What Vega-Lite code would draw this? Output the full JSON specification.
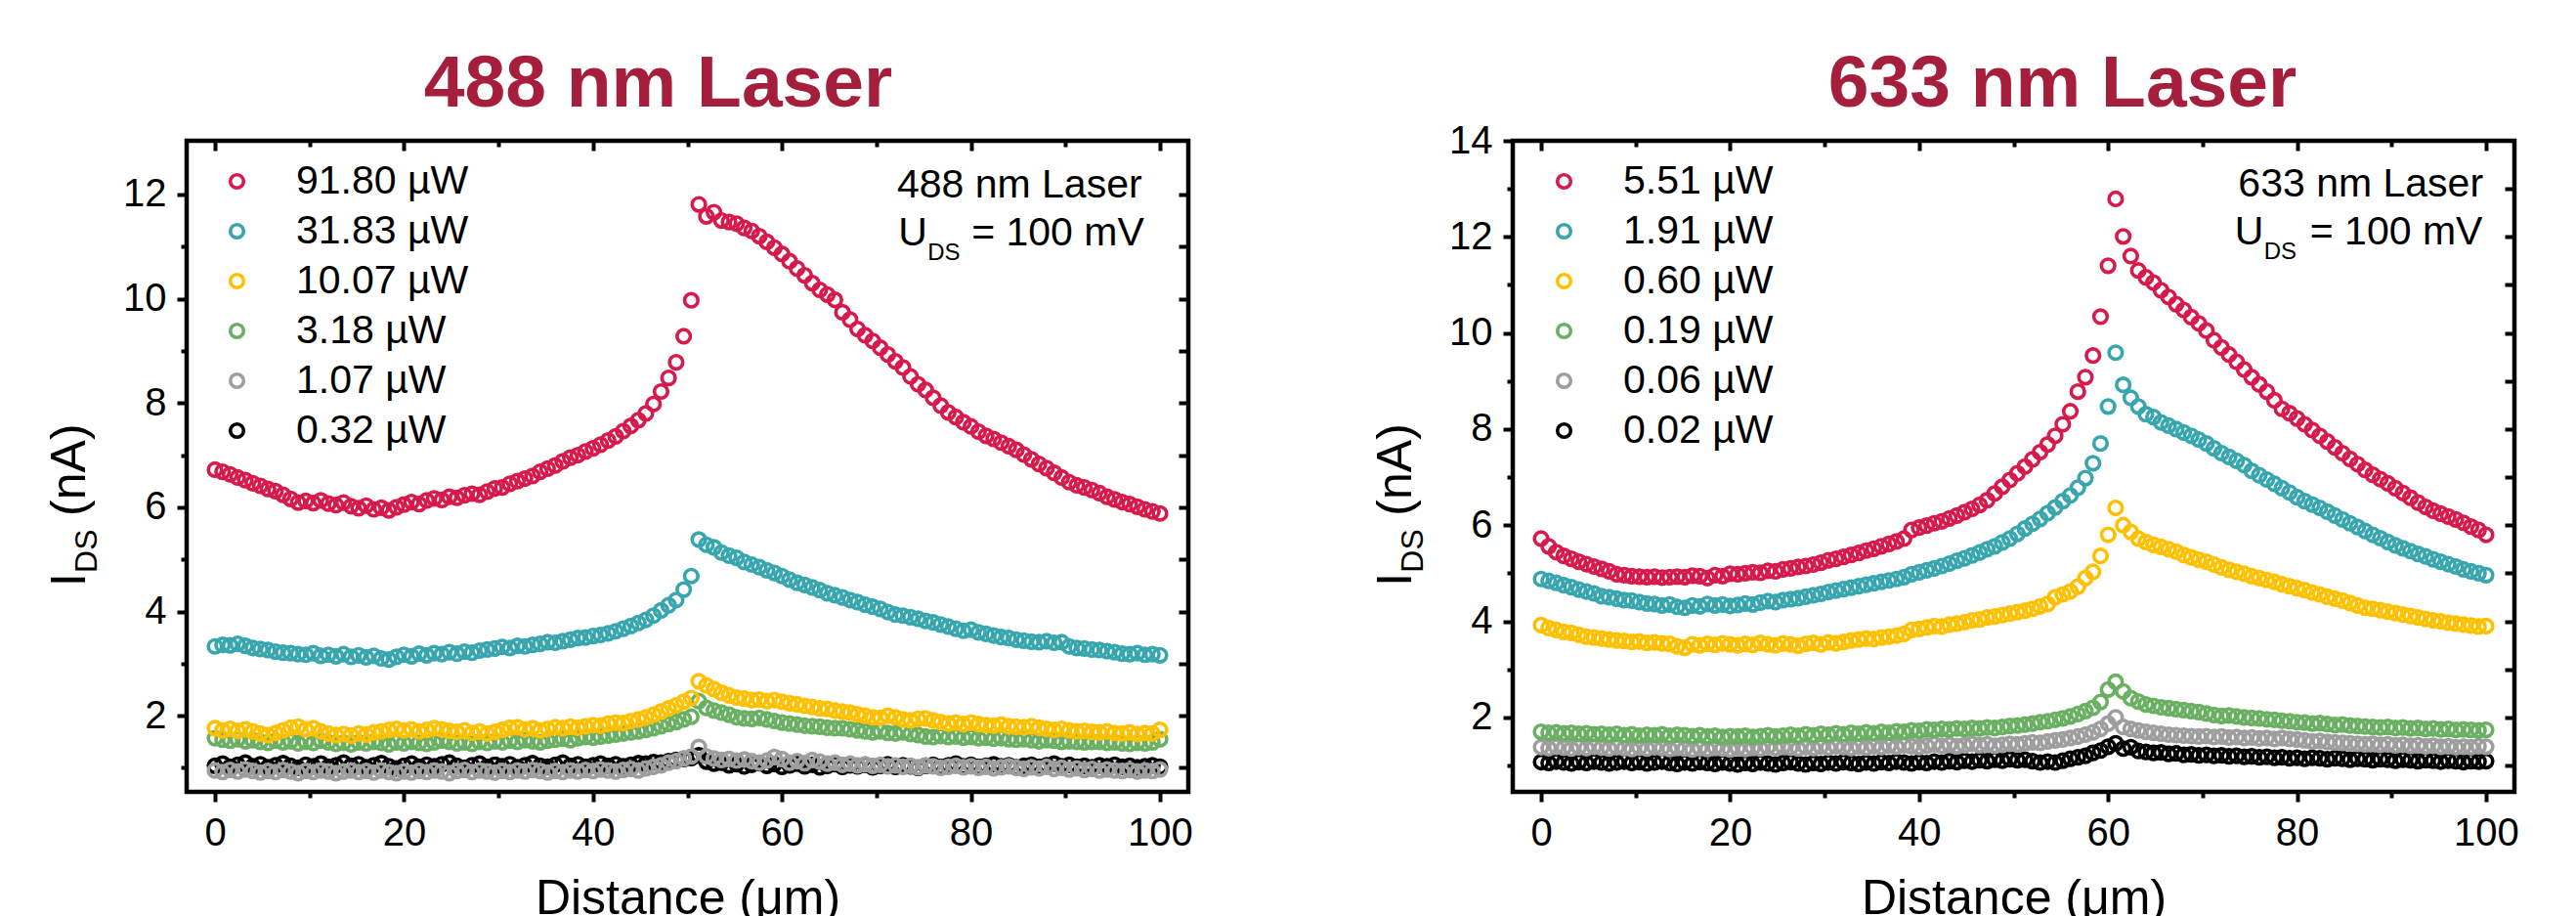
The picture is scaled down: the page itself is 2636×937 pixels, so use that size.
{
"$schema":"https://vega.github.io/schema/vega-lite/v6.json",
"padding":{"left":44,"top":46,"right":0,"bottom":0},
"bounds":"flush",
"spacing":332,
"resolve":{"scale":{"color":"independent"},"legend":{"color":"independent"}},
"config":{"background":"white","view":{"stroke":"black","strokeWidth":4.5},"axis":{"domain":false,"grid":false,"tickColor":"black","tickWidth":4,"labelFont":"Liberation Sans","labelColor":"black","labelFontSize":40,"titleFont":"Liberation Sans","titleColor":"black","labelFlush":false,"labelOverlap":false}},
"datasets":{
"d488":[
{"P":"0.32 µW","x":0,"y":1.04},{"P":"0.32 µW","x":0.8,"y":1.08},{"P":"0.32 µW","x":1.6,"y":1.02},{"P":"0.32 µW","x":2.4,"y":1.06},{"P":"0.32 µW","x":3.2,"y":1.1},{"P":"0.32 µW","x":4,"y":1.03},{"P":"0.32 µW","x":4.8,"y":1.07},{"P":"0.32 µW","x":5.6,"y":1.01},{"P":"0.32 µW","x":6.4,"y":1.05},{"P":"0.32 µW","x":7.2,"y":1.09},
{"P":"0.32 µW","x":8,"y":1.04},{"P":"0.32 µW","x":8.8,"y":1.0},{"P":"0.32 µW","x":9.6,"y":1.06},{"P":"0.32 µW","x":10.4,"y":1.03},{"P":"0.32 µW","x":11.2,"y":1.08},{"P":"0.32 µW","x":12,"y":1.02},{"P":"0.32 µW","x":12.8,"y":1.05},{"P":"0.32 µW","x":13.6,"y":1.1},{"P":"0.32 µW","x":14.4,"y":1.04},{"P":"0.32 µW","x":15.2,"y":1.07},
{"P":"0.32 µW","x":16,"y":1.01},{"P":"0.32 µW","x":16.8,"y":1.05},{"P":"0.32 µW","x":17.6,"y":1.09},{"P":"0.32 µW","x":18.4,"y":1.03},{"P":"0.32 µW","x":19.2,"y":0.99},{"P":"0.32 µW","x":20,"y":1.04},{"P":"0.32 µW","x":20.8,"y":1.08},{"P":"0.32 µW","x":21.6,"y":1.02},{"P":"0.32 µW","x":22.4,"y":1.06},{"P":"0.32 µW","x":23.2,"y":1.03},
{"P":"0.32 µW","x":24,"y":1.07},{"P":"0.32 µW","x":24.8,"y":1.1},{"P":"0.32 µW","x":25.6,"y":1.04},{"P":"0.32 µW","x":26.4,"y":1.0},{"P":"0.32 µW","x":27.2,"y":1.05},{"P":"0.32 µW","x":28,"y":1.08},{"P":"0.32 µW","x":28.8,"y":1.02},{"P":"0.32 µW","x":29.6,"y":1.06},{"P":"0.32 µW","x":30.4,"y":1.03},{"P":"0.32 µW","x":31.2,"y":1.07},
{"P":"0.32 µW","x":32,"y":1.01},{"P":"0.32 µW","x":32.8,"y":1.05},{"P":"0.32 µW","x":33.6,"y":1.09},{"P":"0.32 µW","x":34.4,"y":1.04},{"P":"0.32 µW","x":35.2,"y":1.02},{"P":"0.32 µW","x":36,"y":1.06},{"P":"0.32 µW","x":36.8,"y":1.1},{"P":"0.32 µW","x":37.6,"y":1.04},{"P":"0.32 µW","x":38.4,"y":1.07},{"P":"0.32 µW","x":39.2,"y":1.02},
{"P":"0.32 µW","x":40,"y":1.05},{"P":"0.32 µW","x":40.8,"y":1.08},{"P":"0.32 µW","x":41.6,"y":1.04},{"P":"0.32 µW","x":42.4,"y":1.07},{"P":"0.32 µW","x":43.2,"y":1.03},{"P":"0.32 µW","x":44,"y":1.06},{"P":"0.32 µW","x":44.8,"y":1.09},{"P":"0.32 µW","x":45.6,"y":1.08},{"P":"0.32 µW","x":46.4,"y":1.11},{"P":"0.32 µW","x":47.2,"y":1.1},
{"P":"0.32 µW","x":48,"y":1.13},{"P":"0.32 µW","x":48.8,"y":1.15},{"P":"0.32 µW","x":49.6,"y":1.17},{"P":"0.32 µW","x":50.4,"y":1.19},{"P":"0.32 µW","x":51.2,"y":1.24},{"P":"0.32 µW","x":52,"y":1.12},{"P":"0.32 µW","x":52.8,"y":1.08},{"P":"0.32 µW","x":53.6,"y":1.1},{"P":"0.32 µW","x":54.4,"y":1.05},{"P":"0.32 µW","x":55.2,"y":1.07},
{"P":"0.32 µW","x":56,"y":1.03},{"P":"0.32 µW","x":56.8,"y":1.06},{"P":"0.32 µW","x":57.6,"y":1.09},{"P":"0.32 µW","x":58.4,"y":1.04},{"P":"0.32 µW","x":59.2,"y":1.07},{"P":"0.32 µW","x":60,"y":1.02},{"P":"0.32 µW","x":60.8,"y":1.05},{"P":"0.32 µW","x":61.6,"y":1.08},{"P":"0.32 µW","x":62.4,"y":1.03},{"P":"0.32 µW","x":63.2,"y":1.06},
{"P":"0.32 µW","x":64,"y":1.01},{"P":"0.32 µW","x":64.8,"y":1.04},{"P":"0.32 µW","x":65.6,"y":1.07},{"P":"0.32 µW","x":66.4,"y":1.02},{"P":"0.32 µW","x":67.2,"y":1.05},{"P":"0.32 µW","x":68,"y":1.03},{"P":"0.32 µW","x":68.8,"y":1.06},{"P":"0.32 µW","x":69.6,"y":1.01},{"P":"0.32 µW","x":70.4,"y":1.04},{"P":"0.32 µW","x":71.2,"y":1.07},
{"P":"0.32 µW","x":72,"y":1.02},{"P":"0.32 µW","x":72.8,"y":1.05},{"P":"0.32 µW","x":73.6,"y":1.03},{"P":"0.32 µW","x":74.4,"y":1.0},{"P":"0.32 µW","x":75.2,"y":1.04},{"P":"0.32 µW","x":76,"y":1.06},{"P":"0.32 µW","x":76.8,"y":1.02},{"P":"0.32 µW","x":77.6,"y":1.05},{"P":"0.32 µW","x":78.4,"y":1.08},{"P":"0.32 µW","x":79.2,"y":1.03},
{"P":"0.32 µW","x":80,"y":1.06},{"P":"0.32 µW","x":80.8,"y":1.02},{"P":"0.32 µW","x":81.6,"y":1.04},{"P":"0.32 µW","x":82.4,"y":1.07},{"P":"0.32 µW","x":83.2,"y":1.03},{"P":"0.32 µW","x":84,"y":1.05},{"P":"0.32 µW","x":84.8,"y":1.01},{"P":"0.32 µW","x":85.6,"y":1.04},{"P":"0.32 µW","x":86.4,"y":1.06},{"P":"0.32 µW","x":87.2,"y":1.02},
{"P":"0.32 µW","x":88,"y":1.05},{"P":"0.32 µW","x":88.8,"y":1.08},{"P":"0.32 µW","x":89.6,"y":1.03},{"P":"0.32 µW","x":90.4,"y":1.06},{"P":"0.32 µW","x":91.2,"y":1.02},{"P":"0.32 µW","x":92,"y":1.04},{"P":"0.32 µW","x":92.8,"y":1.01},{"P":"0.32 µW","x":93.6,"y":1.05},{"P":"0.32 µW","x":94.4,"y":1.03},{"P":"0.32 µW","x":95.2,"y":1.06},
{"P":"0.32 µW","x":96,"y":1.02},{"P":"0.32 µW","x":96.8,"y":1.04},{"P":"0.32 µW","x":97.6,"y":1.01},{"P":"0.32 µW","x":98.4,"y":1.03},{"P":"0.32 µW","x":99.2,"y":1.05},{"P":"0.32 µW","x":100,"y":1.02},
{"P":"1.07 µW","x":0,"y":0.95},{"P":"1.07 µW","x":0.8,"y":0.92},{"P":"1.07 µW","x":1.6,"y":0.96},{"P":"1.07 µW","x":2.4,"y":0.93},{"P":"1.07 µW","x":3.2,"y":0.97},{"P":"1.07 µW","x":4,"y":0.94},{"P":"1.07 µW","x":4.8,"y":0.91},{"P":"1.07 µW","x":5.6,"y":0.94},{"P":"1.07 µW","x":6.4,"y":0.92},{"P":"1.07 µW","x":7.2,"y":0.96},
{"P":"1.07 µW","x":8,"y":0.93},{"P":"1.07 µW","x":8.8,"y":0.9},{"P":"1.07 µW","x":9.6,"y":0.94},{"P":"1.07 µW","x":10.4,"y":0.92},{"P":"1.07 µW","x":11.2,"y":0.95},{"P":"1.07 µW","x":12,"y":0.93},{"P":"1.07 µW","x":12.8,"y":0.9},{"P":"1.07 µW","x":13.6,"y":0.93},{"P":"1.07 µW","x":14.4,"y":0.95},{"P":"1.07 µW","x":15.2,"y":0.92},
{"P":"1.07 µW","x":16,"y":0.94},{"P":"1.07 µW","x":16.8,"y":0.91},{"P":"1.07 µW","x":17.6,"y":0.95},{"P":"1.07 µW","x":18.4,"y":0.92},{"P":"1.07 µW","x":19.2,"y":0.9},{"P":"1.07 µW","x":20,"y":0.93},{"P":"1.07 µW","x":20.8,"y":0.91},{"P":"1.07 µW","x":21.6,"y":0.94},{"P":"1.07 µW","x":22.4,"y":0.92},{"P":"1.07 µW","x":23.2,"y":0.95},
{"P":"1.07 µW","x":24,"y":0.93},{"P":"1.07 µW","x":24.8,"y":0.9},{"P":"1.07 µW","x":25.6,"y":0.94},{"P":"1.07 µW","x":26.4,"y":0.96},{"P":"1.07 µW","x":27.2,"y":0.92},{"P":"1.07 µW","x":28,"y":0.95},{"P":"1.07 µW","x":28.8,"y":0.93},{"P":"1.07 µW","x":29.6,"y":0.91},{"P":"1.07 µW","x":30.4,"y":0.94},{"P":"1.07 µW","x":31.2,"y":0.92},
{"P":"1.07 µW","x":32,"y":0.95},{"P":"1.07 µW","x":32.8,"y":0.93},{"P":"1.07 µW","x":33.6,"y":0.96},{"P":"1.07 µW","x":34.4,"y":0.94},{"P":"1.07 µW","x":35.2,"y":0.91},{"P":"1.07 µW","x":36,"y":0.94},{"P":"1.07 µW","x":36.8,"y":0.92},{"P":"1.07 µW","x":37.6,"y":0.95},{"P":"1.07 µW","x":38.4,"y":0.93},{"P":"1.07 µW","x":39.2,"y":0.96},
{"P":"1.07 µW","x":40,"y":0.94},{"P":"1.07 µW","x":40.8,"y":0.97},{"P":"1.07 µW","x":41.6,"y":0.95},{"P":"1.07 µW","x":42.4,"y":0.93},{"P":"1.07 µW","x":43.2,"y":0.96},{"P":"1.07 µW","x":44,"y":0.98},{"P":"1.07 µW","x":44.8,"y":0.95},{"P":"1.07 µW","x":45.6,"y":0.99},{"P":"1.07 µW","x":46.4,"y":1.02},{"P":"1.07 µW","x":47.2,"y":1.05},
{"P":"1.07 µW","x":48,"y":1.1},{"P":"1.07 µW","x":48.8,"y":1.13},{"P":"1.07 µW","x":49.6,"y":1.18},{"P":"1.07 µW","x":50.4,"y":1.22},{"P":"1.07 µW","x":51.2,"y":1.4},{"P":"1.07 µW","x":52,"y":1.22},{"P":"1.07 µW","x":52.8,"y":1.18},{"P":"1.07 µW","x":53.6,"y":1.15},{"P":"1.07 µW","x":54.4,"y":1.17},{"P":"1.07 µW","x":55.2,"y":1.14},
{"P":"1.07 µW","x":56,"y":1.16},{"P":"1.07 µW","x":56.8,"y":1.13},{"P":"1.07 µW","x":57.6,"y":1.1},{"P":"1.07 µW","x":58.4,"y":1.14},{"P":"1.07 µW","x":59.2,"y":1.21},{"P":"1.07 µW","x":60,"y":1.17},{"P":"1.07 µW","x":60.8,"y":1.1},{"P":"1.07 µW","x":61.6,"y":1.13},{"P":"1.07 µW","x":62.4,"y":1.09},{"P":"1.07 µW","x":63.2,"y":1.15},
{"P":"1.07 µW","x":64,"y":1.12},{"P":"1.07 µW","x":64.8,"y":1.08},{"P":"1.07 µW","x":65.6,"y":1.1},{"P":"1.07 µW","x":66.4,"y":1.06},{"P":"1.07 µW","x":67.2,"y":1.08},{"P":"1.07 µW","x":68,"y":1.05},{"P":"1.07 µW","x":68.8,"y":1.07},{"P":"1.07 µW","x":69.6,"y":1.04},{"P":"1.07 µW","x":70.4,"y":1.06},{"P":"1.07 µW","x":71.2,"y":1.03},
{"P":"1.07 µW","x":72,"y":1.05},{"P":"1.07 µW","x":72.8,"y":1.02},{"P":"1.07 µW","x":73.6,"y":1.04},{"P":"1.07 µW","x":74.4,"y":1.01},{"P":"1.07 µW","x":75.2,"y":1.05},{"P":"1.07 µW","x":76,"y":1.03},{"P":"1.07 µW","x":76.8,"y":1.0},{"P":"1.07 µW","x":77.6,"y":1.02},{"P":"1.07 µW","x":78.4,"y":1.04},{"P":"1.07 µW","x":79.2,"y":1.01},
{"P":"1.07 µW","x":80,"y":1.03},{"P":"1.07 µW","x":80.8,"y":1.0},{"P":"1.07 µW","x":81.6,"y":1.02},{"P":"1.07 µW","x":82.4,"y":0.99},{"P":"1.07 µW","x":83.2,"y":1.01},{"P":"1.07 µW","x":84,"y":1.03},{"P":"1.07 µW","x":84.8,"y":1.0},{"P":"1.07 µW","x":85.6,"y":0.98},{"P":"1.07 µW","x":86.4,"y":1.01},{"P":"1.07 µW","x":87.2,"y":0.99},
{"P":"1.07 µW","x":88,"y":1.02},{"P":"1.07 µW","x":88.8,"y":0.98},{"P":"1.07 µW","x":89.6,"y":1.0},{"P":"1.07 µW","x":90.4,"y":0.97},{"P":"1.07 µW","x":91.2,"y":0.99},{"P":"1.07 µW","x":92,"y":0.96},{"P":"1.07 µW","x":92.8,"y":0.98},{"P":"1.07 µW","x":93.6,"y":0.95},{"P":"1.07 µW","x":94.4,"y":0.97},{"P":"1.07 µW","x":95.2,"y":0.95},
{"P":"1.07 µW","x":96,"y":0.94},{"P":"1.07 µW","x":96.8,"y":0.96},{"P":"1.07 µW","x":97.6,"y":0.93},{"P":"1.07 µW","x":98.4,"y":0.95},{"P":"1.07 µW","x":99.2,"y":0.94},{"P":"1.07 µW","x":100,"y":0.97},
{"P":"3.18 µW","x":0,"y":1.57},{"P":"3.18 µW","x":0.8,"y":1.54},{"P":"3.18 µW","x":1.6,"y":1.52},{"P":"3.18 µW","x":2.4,"y":1.55},{"P":"3.18 µW","x":3.2,"y":1.51},{"P":"3.18 µW","x":4,"y":1.53},{"P":"3.18 µW","x":4.8,"y":1.5},{"P":"3.18 µW","x":5.6,"y":1.48},{"P":"3.18 µW","x":6.4,"y":1.52},{"P":"3.18 µW","x":7.2,"y":1.49},
{"P":"3.18 µW","x":8,"y":1.51},{"P":"3.18 µW","x":8.8,"y":1.47},{"P":"3.18 µW","x":9.6,"y":1.5},{"P":"3.18 µW","x":10.4,"y":1.48},{"P":"3.18 µW","x":11.2,"y":1.52},{"P":"3.18 µW","x":12,"y":1.49},{"P":"3.18 µW","x":12.8,"y":1.46},{"P":"3.18 µW","x":13.6,"y":1.48},{"P":"3.18 µW","x":14.4,"y":1.45},{"P":"3.18 µW","x":15.2,"y":1.49},
{"P":"3.18 µW","x":16,"y":1.47},{"P":"3.18 µW","x":16.8,"y":1.5},{"P":"3.18 µW","x":17.6,"y":1.48},{"P":"3.18 µW","x":18.4,"y":1.45},{"P":"3.18 µW","x":19.2,"y":1.49},{"P":"3.18 µW","x":20,"y":1.47},{"P":"3.18 µW","x":20.8,"y":1.5},{"P":"3.18 µW","x":21.6,"y":1.48},{"P":"3.18 µW","x":22.4,"y":1.46},{"P":"3.18 µW","x":23.2,"y":1.49},
{"P":"3.18 µW","x":24,"y":1.52},{"P":"3.18 µW","x":24.8,"y":1.5},{"P":"3.18 µW","x":25.6,"y":1.47},{"P":"3.18 µW","x":26.4,"y":1.49},{"P":"3.18 µW","x":27.2,"y":1.46},{"P":"3.18 µW","x":28,"y":1.5},{"P":"3.18 µW","x":28.8,"y":1.48},{"P":"3.18 µW","x":29.6,"y":1.51},{"P":"3.18 µW","x":30.4,"y":1.49},{"P":"3.18 µW","x":31.2,"y":1.52},
{"P":"3.18 µW","x":32,"y":1.5},{"P":"3.18 µW","x":32.8,"y":1.53},{"P":"3.18 µW","x":33.6,"y":1.51},{"P":"3.18 µW","x":34.4,"y":1.49},{"P":"3.18 µW","x":35.2,"y":1.52},{"P":"3.18 µW","x":36,"y":1.54},{"P":"3.18 µW","x":36.8,"y":1.56},{"P":"3.18 µW","x":37.6,"y":1.53},{"P":"3.18 µW","x":38.4,"y":1.57},{"P":"3.18 µW","x":39.2,"y":1.59},
{"P":"3.18 µW","x":40,"y":1.58},{"P":"3.18 µW","x":40.8,"y":1.6},{"P":"3.18 µW","x":41.6,"y":1.62},{"P":"3.18 µW","x":42.4,"y":1.64},{"P":"3.18 µW","x":43.2,"y":1.66},{"P":"3.18 µW","x":44,"y":1.68},{"P":"3.18 µW","x":44.8,"y":1.7},{"P":"3.18 µW","x":45.6,"y":1.73},{"P":"3.18 µW","x":46.4,"y":1.76},{"P":"3.18 µW","x":47.2,"y":1.8},
{"P":"3.18 µW","x":48,"y":1.84},{"P":"3.18 µW","x":48.8,"y":1.88},{"P":"3.18 µW","x":49.6,"y":1.93},{"P":"3.18 µW","x":50.4,"y":1.98},{"P":"3.18 µW","x":51.2,"y":2.28},{"P":"3.18 µW","x":52,"y":2.15},{"P":"3.18 µW","x":52.8,"y":2.1},{"P":"3.18 µW","x":53.6,"y":2.06},{"P":"3.18 µW","x":54.4,"y":2.02},{"P":"3.18 µW","x":55.2,"y":1.97},
{"P":"3.18 µW","x":56,"y":1.95},{"P":"3.18 µW","x":56.8,"y":1.94},{"P":"3.18 µW","x":57.6,"y":1.96},{"P":"3.18 µW","x":58.4,"y":1.93},{"P":"3.18 µW","x":59.2,"y":1.9},{"P":"3.18 µW","x":60,"y":1.87},{"P":"3.18 µW","x":60.8,"y":1.85},{"P":"3.18 µW","x":61.6,"y":1.83},{"P":"3.18 µW","x":62.4,"y":1.81},{"P":"3.18 µW","x":63.2,"y":1.8},
{"P":"3.18 µW","x":64,"y":1.79},{"P":"3.18 µW","x":64.8,"y":1.77},{"P":"3.18 µW","x":65.6,"y":1.76},{"P":"3.18 µW","x":66.4,"y":1.76},{"P":"3.18 µW","x":67.2,"y":1.74},{"P":"3.18 µW","x":68,"y":1.72},{"P":"3.18 µW","x":68.8,"y":1.7},{"P":"3.18 µW","x":69.6,"y":1.68},{"P":"3.18 µW","x":70.4,"y":1.7},{"P":"3.18 µW","x":71.2,"y":1.67},
{"P":"3.18 µW","x":72,"y":1.66},{"P":"3.18 µW","x":72.8,"y":1.68},{"P":"3.18 µW","x":73.6,"y":1.65},{"P":"3.18 µW","x":74.4,"y":1.63},{"P":"3.18 µW","x":75.2,"y":1.6},{"P":"3.18 µW","x":76,"y":1.59},{"P":"3.18 µW","x":76.8,"y":1.61},{"P":"3.18 µW","x":77.6,"y":1.59},{"P":"3.18 µW","x":78.4,"y":1.6},{"P":"3.18 µW","x":79.2,"y":1.58},
{"P":"3.18 µW","x":80,"y":1.59},{"P":"3.18 µW","x":80.8,"y":1.57},{"P":"3.18 µW","x":81.6,"y":1.58},{"P":"3.18 µW","x":82.4,"y":1.56},{"P":"3.18 µW","x":83.2,"y":1.57},{"P":"3.18 µW","x":84,"y":1.55},{"P":"3.18 µW","x":84.8,"y":1.54},{"P":"3.18 µW","x":85.6,"y":1.55},{"P":"3.18 µW","x":86.4,"y":1.53},{"P":"3.18 µW","x":87.2,"y":1.51},
{"P":"3.18 µW","x":88,"y":1.53},{"P":"3.18 µW","x":88.8,"y":1.52},{"P":"3.18 µW","x":89.6,"y":1.5},{"P":"3.18 µW","x":90.4,"y":1.51},{"P":"3.18 µW","x":91.2,"y":1.5},{"P":"3.18 µW","x":92,"y":1.49},{"P":"3.18 µW","x":92.8,"y":1.5},{"P":"3.18 µW","x":93.6,"y":1.5},{"P":"3.18 µW","x":94.4,"y":1.48},{"P":"3.18 µW","x":95.2,"y":1.49},
{"P":"3.18 µW","x":96,"y":1.47},{"P":"3.18 µW","x":96.8,"y":1.46},{"P":"3.18 µW","x":97.6,"y":1.48},{"P":"3.18 µW","x":98.4,"y":1.47},{"P":"3.18 µW","x":99.2,"y":1.49},{"P":"3.18 µW","x":100,"y":1.55},
{"P":"10.07 µW","x":0,"y":1.76},{"P":"10.07 µW","x":0.8,"y":1.72},{"P":"10.07 µW","x":1.6,"y":1.75},{"P":"10.07 µW","x":2.4,"y":1.71},{"P":"10.07 µW","x":3.2,"y":1.74},{"P":"10.07 µW","x":4,"y":1.7},{"P":"10.07 µW","x":4.8,"y":1.66},{"P":"10.07 µW","x":5.6,"y":1.63},{"P":"10.07 µW","x":6.4,"y":1.67},{"P":"10.07 µW","x":7.2,"y":1.72},
{"P":"10.07 µW","x":8,"y":1.77},{"P":"10.07 µW","x":8.8,"y":1.79},{"P":"10.07 µW","x":9.6,"y":1.74},{"P":"10.07 µW","x":10.4,"y":1.76},{"P":"10.07 µW","x":11.2,"y":1.7},{"P":"10.07 µW","x":12,"y":1.66},{"P":"10.07 µW","x":12.8,"y":1.63},{"P":"10.07 µW","x":13.6,"y":1.65},{"P":"10.07 µW","x":14.4,"y":1.62},{"P":"10.07 µW","x":15.2,"y":1.66},
{"P":"10.07 µW","x":16,"y":1.64},{"P":"10.07 µW","x":16.8,"y":1.68},{"P":"10.07 µW","x":17.6,"y":1.7},{"P":"10.07 µW","x":18.4,"y":1.73},{"P":"10.07 µW","x":19.2,"y":1.75},{"P":"10.07 µW","x":20,"y":1.72},{"P":"10.07 µW","x":20.8,"y":1.74},{"P":"10.07 µW","x":21.6,"y":1.7},{"P":"10.07 µW","x":22.4,"y":1.73},{"P":"10.07 µW","x":23.2,"y":1.76},
{"P":"10.07 µW","x":24,"y":1.74},{"P":"10.07 µW","x":24.8,"y":1.71},{"P":"10.07 µW","x":25.6,"y":1.69},{"P":"10.07 µW","x":26.4,"y":1.72},{"P":"10.07 µW","x":27.2,"y":1.67},{"P":"10.07 µW","x":28,"y":1.7},{"P":"10.07 µW","x":28.8,"y":1.66},{"P":"10.07 µW","x":29.6,"y":1.69},{"P":"10.07 µW","x":30.4,"y":1.73},{"P":"10.07 µW","x":31.2,"y":1.77},
{"P":"10.07 µW","x":32,"y":1.78},{"P":"10.07 µW","x":32.8,"y":1.74},{"P":"10.07 µW","x":33.6,"y":1.76},{"P":"10.07 µW","x":34.4,"y":1.72},{"P":"10.07 µW","x":35.2,"y":1.75},{"P":"10.07 µW","x":36,"y":1.78},{"P":"10.07 µW","x":36.8,"y":1.76},{"P":"10.07 µW","x":37.6,"y":1.79},{"P":"10.07 µW","x":38.4,"y":1.77},{"P":"10.07 µW","x":39.2,"y":1.8},
{"P":"10.07 µW","x":40,"y":1.82},{"P":"10.07 µW","x":40.8,"y":1.81},{"P":"10.07 µW","x":41.6,"y":1.85},{"P":"10.07 µW","x":42.4,"y":1.87},{"P":"10.07 µW","x":43.2,"y":1.86},{"P":"10.07 µW","x":44,"y":1.9},{"P":"10.07 µW","x":44.8,"y":1.93},{"P":"10.07 µW","x":45.6,"y":1.97},{"P":"10.07 µW","x":46.4,"y":2.02},{"P":"10.07 µW","x":47.2,"y":2.08},
{"P":"10.07 µW","x":48,"y":2.14},{"P":"10.07 µW","x":48.8,"y":2.2},{"P":"10.07 µW","x":49.6,"y":2.27},{"P":"10.07 µW","x":50.4,"y":2.34},{"P":"10.07 µW","x":51.2,"y":2.66},{"P":"10.07 µW","x":52,"y":2.58},{"P":"10.07 µW","x":52.8,"y":2.51},{"P":"10.07 µW","x":53.6,"y":2.44},{"P":"10.07 µW","x":54.4,"y":2.39},{"P":"10.07 µW","x":55.2,"y":2.35},
{"P":"10.07 µW","x":56,"y":2.33},{"P":"10.07 µW","x":56.8,"y":2.3},{"P":"10.07 µW","x":57.6,"y":2.31},{"P":"10.07 µW","x":58.4,"y":2.28},{"P":"10.07 µW","x":59.2,"y":2.3},{"P":"10.07 µW","x":60,"y":2.27},{"P":"10.07 µW","x":60.8,"y":2.24},{"P":"10.07 µW","x":61.6,"y":2.22},{"P":"10.07 µW","x":62.4,"y":2.19},{"P":"10.07 µW","x":63.2,"y":2.17},
{"P":"10.07 µW","x":64,"y":2.14},{"P":"10.07 µW","x":64.8,"y":2.13},{"P":"10.07 µW","x":65.6,"y":2.1},{"P":"10.07 µW","x":66.4,"y":2.08},{"P":"10.07 µW","x":67.2,"y":2.06},{"P":"10.07 µW","x":68,"y":2.03},{"P":"10.07 µW","x":68.8,"y":2.0},{"P":"10.07 µW","x":69.6,"y":1.97},{"P":"10.07 µW","x":70.4,"y":1.96},{"P":"10.07 µW","x":71.2,"y":2.0},
{"P":"10.07 µW","x":72,"y":1.97},{"P":"10.07 µW","x":72.8,"y":1.93},{"P":"10.07 µW","x":73.6,"y":1.91},{"P":"10.07 µW","x":74.4,"y":1.94},{"P":"10.07 µW","x":75.2,"y":1.95},{"P":"10.07 µW","x":76,"y":1.91},{"P":"10.07 µW","x":76.8,"y":1.88},{"P":"10.07 µW","x":77.6,"y":1.85},{"P":"10.07 µW","x":78.4,"y":1.87},{"P":"10.07 µW","x":79.2,"y":1.84},
{"P":"10.07 µW","x":80,"y":1.87},{"P":"10.07 µW","x":80.8,"y":1.84},{"P":"10.07 µW","x":81.6,"y":1.82},{"P":"10.07 µW","x":82.4,"y":1.81},{"P":"10.07 µW","x":83.2,"y":1.83},{"P":"10.07 µW","x":84,"y":1.8},{"P":"10.07 µW","x":84.8,"y":1.79},{"P":"10.07 µW","x":85.6,"y":1.78},{"P":"10.07 µW","x":86.4,"y":1.8},{"P":"10.07 µW","x":87.2,"y":1.77},
{"P":"10.07 µW","x":88,"y":1.75},{"P":"10.07 µW","x":88.8,"y":1.73},{"P":"10.07 µW","x":89.6,"y":1.75},{"P":"10.07 µW","x":90.4,"y":1.72},{"P":"10.07 µW","x":91.2,"y":1.7},{"P":"10.07 µW","x":92,"y":1.71},{"P":"10.07 µW","x":92.8,"y":1.69},{"P":"10.07 µW","x":93.6,"y":1.68},{"P":"10.07 µW","x":94.4,"y":1.7},{"P":"10.07 µW","x":95.2,"y":1.67},
{"P":"10.07 µW","x":96,"y":1.66},{"P":"10.07 µW","x":96.8,"y":1.68},{"P":"10.07 µW","x":97.6,"y":1.65},{"P":"10.07 µW","x":98.4,"y":1.67},{"P":"10.07 µW","x":99.2,"y":1.66},{"P":"10.07 µW","x":100,"y":1.73},
{"P":"31.83 µW","x":0,"y":3.33},{"P":"31.83 µW","x":0.8,"y":3.36},{"P":"31.83 µW","x":1.6,"y":3.35},{"P":"31.83 µW","x":2.4,"y":3.38},{"P":"31.83 µW","x":3.2,"y":3.34},{"P":"31.83 µW","x":4,"y":3.3},{"P":"31.83 µW","x":4.8,"y":3.28},{"P":"31.83 µW","x":5.6,"y":3.26},{"P":"31.83 µW","x":6.4,"y":3.23},{"P":"31.83 µW","x":7.2,"y":3.21},
{"P":"31.83 µW","x":8,"y":3.2},{"P":"31.83 µW","x":8.8,"y":3.18},{"P":"31.83 µW","x":9.6,"y":3.17},{"P":"31.83 µW","x":10.4,"y":3.2},{"P":"31.83 µW","x":11.2,"y":3.15},{"P":"31.83 µW","x":12,"y":3.17},{"P":"31.83 µW","x":12.8,"y":3.14},{"P":"31.83 µW","x":13.6,"y":3.18},{"P":"31.83 µW","x":14.4,"y":3.13},{"P":"31.83 µW","x":15.2,"y":3.16},
{"P":"31.83 µW","x":16,"y":3.12},{"P":"31.83 µW","x":16.8,"y":3.15},{"P":"31.83 µW","x":17.6,"y":3.1},{"P":"31.83 µW","x":18.4,"y":3.08},{"P":"31.83 µW","x":19.2,"y":3.13},{"P":"31.83 µW","x":20,"y":3.17},{"P":"31.83 µW","x":20.8,"y":3.14},{"P":"31.83 µW","x":21.6,"y":3.19},{"P":"31.83 µW","x":22.4,"y":3.16},{"P":"31.83 µW","x":23.2,"y":3.2},
{"P":"31.83 µW","x":24,"y":3.18},{"P":"31.83 µW","x":24.8,"y":3.22},{"P":"31.83 µW","x":25.6,"y":3.19},{"P":"31.83 µW","x":26.4,"y":3.23},{"P":"31.83 µW","x":27.2,"y":3.21},{"P":"31.83 µW","x":28,"y":3.25},{"P":"31.83 µW","x":28.8,"y":3.27},{"P":"31.83 µW","x":29.6,"y":3.29},{"P":"31.83 µW","x":30.4,"y":3.32},{"P":"31.83 µW","x":31.2,"y":3.3},
{"P":"31.83 µW","x":32,"y":3.34},{"P":"31.83 µW","x":32.8,"y":3.33},{"P":"31.83 µW","x":33.6,"y":3.36},{"P":"31.83 µW","x":34.4,"y":3.38},{"P":"31.83 µW","x":35.2,"y":3.41},{"P":"31.83 µW","x":36,"y":3.4},{"P":"31.83 µW","x":36.8,"y":3.43},{"P":"31.83 µW","x":37.6,"y":3.46},{"P":"31.83 µW","x":38.4,"y":3.49},{"P":"31.83 µW","x":39.2,"y":3.5},
{"P":"31.83 µW","x":40,"y":3.53},{"P":"31.83 µW","x":40.8,"y":3.55},{"P":"31.83 µW","x":41.6,"y":3.58},{"P":"31.83 µW","x":42.4,"y":3.62},{"P":"31.83 µW","x":43.2,"y":3.67},{"P":"31.83 µW","x":44,"y":3.72},{"P":"31.83 µW","x":44.8,"y":3.78},{"P":"31.83 µW","x":45.6,"y":3.84},{"P":"31.83 µW","x":46.4,"y":3.92},{"P":"31.83 µW","x":47.2,"y":4.02},
{"P":"31.83 µW","x":48,"y":4.12},{"P":"31.83 µW","x":48.8,"y":4.22},{"P":"31.83 µW","x":49.6,"y":4.42},{"P":"31.83 µW","x":50.4,"y":4.68},{"P":"31.83 µW","x":51.2,"y":5.38},{"P":"31.83 µW","x":52,"y":5.28},{"P":"31.83 µW","x":52.8,"y":5.23},{"P":"31.83 µW","x":53.6,"y":5.13},{"P":"31.83 µW","x":54.4,"y":5.07},{"P":"31.83 µW","x":55.2,"y":5.03},
{"P":"31.83 µW","x":56,"y":4.95},{"P":"31.83 µW","x":56.8,"y":4.9},{"P":"31.83 µW","x":57.6,"y":4.85},{"P":"31.83 µW","x":58.4,"y":4.79},{"P":"31.83 µW","x":59.2,"y":4.74},{"P":"31.83 µW","x":60,"y":4.68},{"P":"31.83 µW","x":60.8,"y":4.61},{"P":"31.83 µW","x":61.6,"y":4.55},{"P":"31.83 µW","x":62.4,"y":4.51},{"P":"31.83 µW","x":63.2,"y":4.46},
{"P":"31.83 µW","x":64,"y":4.41},{"P":"31.83 µW","x":64.8,"y":4.35},{"P":"31.83 µW","x":65.6,"y":4.31},{"P":"31.83 µW","x":66.4,"y":4.27},{"P":"31.83 µW","x":67.2,"y":4.22},{"P":"31.83 µW","x":68,"y":4.18},{"P":"31.83 µW","x":68.8,"y":4.13},{"P":"31.83 µW","x":69.6,"y":4.09},{"P":"31.83 µW","x":70.4,"y":4.05},{"P":"31.83 µW","x":71.2,"y":3.99},
{"P":"31.83 µW","x":72,"y":3.94},{"P":"31.83 µW","x":72.8,"y":3.92},{"P":"31.83 µW","x":73.6,"y":3.89},{"P":"31.83 µW","x":74.4,"y":3.86},{"P":"31.83 µW","x":75.2,"y":3.82},{"P":"31.83 µW","x":76,"y":3.79},{"P":"31.83 µW","x":76.8,"y":3.75},{"P":"31.83 µW","x":77.6,"y":3.71},{"P":"31.83 µW","x":78.4,"y":3.67},{"P":"31.83 µW","x":79.2,"y":3.63},
{"P":"31.83 µW","x":80,"y":3.65},{"P":"31.83 µW","x":80.8,"y":3.6},{"P":"31.83 µW","x":81.6,"y":3.57},{"P":"31.83 µW","x":82.4,"y":3.54},{"P":"31.83 µW","x":83.2,"y":3.51},{"P":"31.83 µW","x":84,"y":3.49},{"P":"31.83 µW","x":84.8,"y":3.46},{"P":"31.83 µW","x":85.6,"y":3.44},{"P":"31.83 µW","x":86.4,"y":3.42},{"P":"31.83 µW","x":87.2,"y":3.41},
{"P":"31.83 µW","x":88,"y":3.43},{"P":"31.83 µW","x":88.8,"y":3.4},{"P":"31.83 µW","x":89.6,"y":3.41},{"P":"31.83 µW","x":90.4,"y":3.33},{"P":"31.83 µW","x":91.2,"y":3.3},{"P":"31.83 µW","x":92,"y":3.29},{"P":"31.83 µW","x":92.8,"y":3.27},{"P":"31.83 µW","x":93.6,"y":3.26},{"P":"31.83 µW","x":94.4,"y":3.24},{"P":"31.83 µW","x":95.2,"y":3.22},
{"P":"31.83 µW","x":96,"y":3.19},{"P":"31.83 µW","x":96.8,"y":3.18},{"P":"31.83 µW","x":97.6,"y":3.2},{"P":"31.83 µW","x":98.4,"y":3.17},{"P":"31.83 µW","x":99.2,"y":3.18},{"P":"31.83 µW","x":100,"y":3.16},
{"P":"91.80 µW","x":0,"y":6.72},{"P":"91.80 µW","x":0.8,"y":6.68},{"P":"91.80 µW","x":1.6,"y":6.63},{"P":"91.80 µW","x":2.4,"y":6.57},{"P":"91.80 µW","x":3.2,"y":6.52},{"P":"91.80 µW","x":4,"y":6.46},{"P":"91.80 µW","x":4.8,"y":6.41},{"P":"91.80 µW","x":5.6,"y":6.35},{"P":"91.80 µW","x":6.4,"y":6.31},{"P":"91.80 µW","x":7.2,"y":6.24},
{"P":"91.80 µW","x":8,"y":6.16},{"P":"91.80 µW","x":8.8,"y":6.09},{"P":"91.80 µW","x":9.6,"y":6.12},{"P":"91.80 µW","x":10.4,"y":6.08},{"P":"91.80 µW","x":11.2,"y":6.13},{"P":"91.80 µW","x":12,"y":6.07},{"P":"91.80 µW","x":12.8,"y":6.04},{"P":"91.80 µW","x":13.6,"y":6.09},{"P":"91.80 µW","x":14.4,"y":6.02},{"P":"91.80 µW","x":15.2,"y":5.98},
{"P":"91.80 µW","x":16,"y":6.03},{"P":"91.80 µW","x":16.8,"y":5.96},{"P":"91.80 µW","x":17.6,"y":5.99},{"P":"91.80 µW","x":18.4,"y":5.94},{"P":"91.80 µW","x":19.2,"y":6.0},{"P":"91.80 µW","x":20,"y":6.05},{"P":"91.80 µW","x":20.8,"y":6.1},{"P":"91.80 µW","x":21.6,"y":6.06},{"P":"91.80 µW","x":22.4,"y":6.13},{"P":"91.80 µW","x":23.2,"y":6.17},
{"P":"91.80 µW","x":24,"y":6.14},{"P":"91.80 µW","x":24.8,"y":6.2},{"P":"91.80 µW","x":25.6,"y":6.18},{"P":"91.80 µW","x":26.4,"y":6.23},{"P":"91.80 µW","x":27.2,"y":6.26},{"P":"91.80 µW","x":28,"y":6.24},{"P":"91.80 µW","x":28.8,"y":6.3},{"P":"91.80 µW","x":29.6,"y":6.36},{"P":"91.80 µW","x":30.4,"y":6.38},{"P":"91.80 µW","x":31.2,"y":6.45},
{"P":"91.80 µW","x":32,"y":6.5},{"P":"91.80 µW","x":32.8,"y":6.55},{"P":"91.80 µW","x":33.6,"y":6.6},{"P":"91.80 µW","x":34.4,"y":6.68},{"P":"91.80 µW","x":35.2,"y":6.74},{"P":"91.80 µW","x":36,"y":6.8},{"P":"91.80 µW","x":36.8,"y":6.88},{"P":"91.80 µW","x":37.6,"y":6.95},{"P":"91.80 µW","x":38.4,"y":7.0},{"P":"91.80 µW","x":39.2,"y":7.07},
{"P":"91.80 µW","x":40,"y":7.13},{"P":"91.80 µW","x":40.8,"y":7.2},{"P":"91.80 µW","x":41.6,"y":7.28},{"P":"91.80 µW","x":42.4,"y":7.36},{"P":"91.80 µW","x":43.2,"y":7.46},{"P":"91.80 µW","x":44,"y":7.56},{"P":"91.80 µW","x":44.8,"y":7.67},{"P":"91.80 µW","x":45.6,"y":7.8},{"P":"91.80 µW","x":46.4,"y":7.98},{"P":"91.80 µW","x":47.2,"y":8.22},
{"P":"91.80 µW","x":48,"y":8.48},{"P":"91.80 µW","x":48.8,"y":8.78},{"P":"91.80 µW","x":49.6,"y":9.28},{"P":"91.80 µW","x":50.4,"y":9.97},{"P":"91.80 µW","x":51.2,"y":11.81},{"P":"91.80 µW","x":52,"y":11.58},{"P":"91.80 µW","x":52.8,"y":11.66},{"P":"91.80 µW","x":53.6,"y":11.5},{"P":"91.80 µW","x":54.4,"y":11.47},{"P":"91.80 µW","x":55.2,"y":11.44},
{"P":"91.80 µW","x":56,"y":11.36},{"P":"91.80 µW","x":56.8,"y":11.3},{"P":"91.80 µW","x":57.6,"y":11.2},{"P":"91.80 µW","x":58.4,"y":11.09},{"P":"91.80 µW","x":59.2,"y":10.98},{"P":"91.80 µW","x":60,"y":10.86},{"P":"91.80 µW","x":60.8,"y":10.72},{"P":"91.80 µW","x":61.6,"y":10.58},{"P":"91.80 µW","x":62.4,"y":10.45},{"P":"91.80 µW","x":63.2,"y":10.3},
{"P":"91.80 µW","x":64,"y":10.17},{"P":"91.80 µW","x":64.8,"y":10.08},{"P":"91.80 µW","x":65.6,"y":9.98},{"P":"91.80 µW","x":66.4,"y":9.74},{"P":"91.80 µW","x":67.2,"y":9.6},{"P":"91.80 µW","x":68,"y":9.42},{"P":"91.80 µW","x":68.8,"y":9.3},{"P":"91.80 µW","x":69.6,"y":9.19},{"P":"91.80 µW","x":70.4,"y":9.06},{"P":"91.80 µW","x":71.2,"y":8.93},
{"P":"91.80 µW","x":72,"y":8.8},{"P":"91.80 µW","x":72.8,"y":8.68},{"P":"91.80 µW","x":73.6,"y":8.51},{"P":"91.80 µW","x":74.4,"y":8.36},{"P":"91.80 µW","x":75.2,"y":8.25},{"P":"91.80 µW","x":76,"y":8.1},{"P":"91.80 µW","x":76.8,"y":7.95},{"P":"91.80 µW","x":77.6,"y":7.82},{"P":"91.80 µW","x":78.4,"y":7.73},{"P":"91.80 µW","x":79.2,"y":7.63},
{"P":"91.80 µW","x":80,"y":7.55},{"P":"91.80 µW","x":80.8,"y":7.45},{"P":"91.80 µW","x":81.6,"y":7.37},{"P":"91.80 µW","x":82.4,"y":7.31},{"P":"91.80 µW","x":83.2,"y":7.24},{"P":"91.80 µW","x":84,"y":7.17},{"P":"91.80 µW","x":84.8,"y":7.1},{"P":"91.80 µW","x":85.6,"y":7.01},{"P":"91.80 µW","x":86.4,"y":6.92},{"P":"91.80 µW","x":87.2,"y":6.83},
{"P":"91.80 µW","x":88,"y":6.75},{"P":"91.80 µW","x":88.8,"y":6.66},{"P":"91.80 µW","x":89.6,"y":6.57},{"P":"91.80 µW","x":90.4,"y":6.48},{"P":"91.80 µW","x":91.2,"y":6.42},{"P":"91.80 µW","x":92,"y":6.38},{"P":"91.80 µW","x":92.8,"y":6.33},{"P":"91.80 µW","x":93.6,"y":6.27},{"P":"91.80 µW","x":94.4,"y":6.2},{"P":"91.80 µW","x":95.2,"y":6.15},
{"P":"91.80 µW","x":96,"y":6.1},{"P":"91.80 µW","x":96.8,"y":6.06},{"P":"91.80 µW","x":97.6,"y":6.01},{"P":"91.80 µW","x":98.4,"y":5.96},{"P":"91.80 µW","x":99.2,"y":5.92},{"P":"91.80 µW","x":100,"y":5.88}
],
"d633":[
{"P":"0.02 µW","x":0,"y":1.07},{"P":"0.02 µW","x":0.8,"y":1.05},{"P":"0.02 µW","x":1.6,"y":1.08},{"P":"0.02 µW","x":2.4,"y":1.06},{"P":"0.02 µW","x":3.2,"y":1.04},{"P":"0.02 µW","x":4,"y":1.07},{"P":"0.02 µW","x":4.8,"y":1.05},{"P":"0.02 µW","x":5.6,"y":1.08},{"P":"0.02 µW","x":6.4,"y":1.06},{"P":"0.02 µW","x":7.2,"y":1.04},
{"P":"0.02 µW","x":8,"y":1.06},{"P":"0.02 µW","x":8.8,"y":1.08},{"P":"0.02 µW","x":9.6,"y":1.05},{"P":"0.02 µW","x":10.4,"y":1.07},{"P":"0.02 µW","x":11.2,"y":1.04},{"P":"0.02 µW","x":12,"y":1.06},{"P":"0.02 µW","x":12.8,"y":1.08},{"P":"0.02 µW","x":13.6,"y":1.05},{"P":"0.02 µW","x":14.4,"y":1.03},{"P":"0.02 µW","x":15.2,"y":1.06},
{"P":"0.02 µW","x":16,"y":1.04},{"P":"0.02 µW","x":16.8,"y":1.07},{"P":"0.02 µW","x":17.6,"y":1.05},{"P":"0.02 µW","x":18.4,"y":1.03},{"P":"0.02 µW","x":19.2,"y":1.06},{"P":"0.02 µW","x":20,"y":1.04},{"P":"0.02 µW","x":20.8,"y":1.02},{"P":"0.02 µW","x":21.6,"y":1.05},{"P":"0.02 µW","x":22.4,"y":1.03},{"P":"0.02 µW","x":23.2,"y":1.06},
{"P":"0.02 µW","x":24,"y":1.04},{"P":"0.02 µW","x":24.8,"y":1.02},{"P":"0.02 µW","x":25.6,"y":1.05},{"P":"0.02 µW","x":26.4,"y":1.07},{"P":"0.02 µW","x":27.2,"y":1.04},{"P":"0.02 µW","x":28,"y":1.02},{"P":"0.02 µW","x":28.8,"y":1.05},{"P":"0.02 µW","x":29.6,"y":1.03},{"P":"0.02 µW","x":30.4,"y":1.06},{"P":"0.02 µW","x":31.2,"y":1.04},
{"P":"0.02 µW","x":32,"y":1.07},{"P":"0.02 µW","x":32.8,"y":1.05},{"P":"0.02 µW","x":33.6,"y":1.03},{"P":"0.02 µW","x":34.4,"y":1.06},{"P":"0.02 µW","x":35.2,"y":1.04},{"P":"0.02 µW","x":36,"y":1.07},{"P":"0.02 µW","x":36.8,"y":1.05},{"P":"0.02 µW","x":37.6,"y":1.08},{"P":"0.02 µW","x":38.4,"y":1.06},{"P":"0.02 µW","x":39.2,"y":1.04},
{"P":"0.02 µW","x":40,"y":1.07},{"P":"0.02 µW","x":40.8,"y":1.05},{"P":"0.02 µW","x":41.6,"y":1.08},{"P":"0.02 µW","x":42.4,"y":1.06},{"P":"0.02 µW","x":43.2,"y":1.09},{"P":"0.02 µW","x":44,"y":1.07},{"P":"0.02 µW","x":44.8,"y":1.1},{"P":"0.02 µW","x":45.6,"y":1.08},{"P":"0.02 µW","x":46.4,"y":1.11},{"P":"0.02 µW","x":47.2,"y":1.09},
{"P":"0.02 µW","x":48,"y":1.12},{"P":"0.02 µW","x":48.8,"y":1.1},{"P":"0.02 µW","x":49.6,"y":1.13},{"P":"0.02 µW","x":50.4,"y":1.11},{"P":"0.02 µW","x":51.2,"y":1.12},{"P":"0.02 µW","x":52,"y":1.09},{"P":"0.02 µW","x":52.8,"y":1.06},{"P":"0.02 µW","x":53.6,"y":1.08},{"P":"0.02 µW","x":54.4,"y":1.06},{"P":"0.02 µW","x":55.2,"y":1.1},
{"P":"0.02 µW","x":56,"y":1.14},{"P":"0.02 µW","x":56.8,"y":1.17},{"P":"0.02 µW","x":57.6,"y":1.2},{"P":"0.02 µW","x":58.4,"y":1.26},{"P":"0.02 µW","x":59.2,"y":1.31},{"P":"0.02 µW","x":60,"y":1.39},{"P":"0.02 µW","x":60.8,"y":1.46},{"P":"0.02 µW","x":61.6,"y":1.35},{"P":"0.02 µW","x":62.4,"y":1.38},{"P":"0.02 µW","x":63.2,"y":1.3},
{"P":"0.02 µW","x":64,"y":1.28},{"P":"0.02 µW","x":64.8,"y":1.26},{"P":"0.02 µW","x":65.6,"y":1.27},{"P":"0.02 µW","x":66.4,"y":1.24},{"P":"0.02 µW","x":67.2,"y":1.25},{"P":"0.02 µW","x":68,"y":1.22},{"P":"0.02 µW","x":68.8,"y":1.23},{"P":"0.02 µW","x":69.6,"y":1.21},{"P":"0.02 µW","x":70.4,"y":1.22},{"P":"0.02 µW","x":71.2,"y":1.2},
{"P":"0.02 µW","x":72,"y":1.21},{"P":"0.02 µW","x":72.8,"y":1.19},{"P":"0.02 µW","x":73.6,"y":1.2},{"P":"0.02 µW","x":74.4,"y":1.18},{"P":"0.02 µW","x":75.2,"y":1.19},{"P":"0.02 µW","x":76,"y":1.17},{"P":"0.02 µW","x":76.8,"y":1.18},{"P":"0.02 µW","x":77.6,"y":1.16},{"P":"0.02 µW","x":78.4,"y":1.17},{"P":"0.02 µW","x":79.2,"y":1.15},
{"P":"0.02 µW","x":80,"y":1.16},{"P":"0.02 µW","x":80.8,"y":1.14},{"P":"0.02 µW","x":81.6,"y":1.16},{"P":"0.02 µW","x":82.4,"y":1.15},{"P":"0.02 µW","x":83.2,"y":1.13},{"P":"0.02 µW","x":84,"y":1.15},{"P":"0.02 µW","x":84.8,"y":1.14},{"P":"0.02 µW","x":85.6,"y":1.12},{"P":"0.02 µW","x":86.4,"y":1.14},{"P":"0.02 µW","x":87.2,"y":1.13},
{"P":"0.02 µW","x":88,"y":1.11},{"P":"0.02 µW","x":88.8,"y":1.13},{"P":"0.02 µW","x":89.6,"y":1.12},{"P":"0.02 µW","x":90.4,"y":1.1},{"P":"0.02 µW","x":91.2,"y":1.12},{"P":"0.02 µW","x":92,"y":1.11},{"P":"0.02 µW","x":92.8,"y":1.09},{"P":"0.02 µW","x":93.6,"y":1.11},{"P":"0.02 µW","x":94.4,"y":1.1},{"P":"0.02 µW","x":95.2,"y":1.08},
{"P":"0.02 µW","x":96,"y":1.1},{"P":"0.02 µW","x":96.8,"y":1.09},{"P":"0.02 µW","x":97.6,"y":1.07},{"P":"0.02 µW","x":98.4,"y":1.09},{"P":"0.02 µW","x":99.2,"y":1.08},{"P":"0.02 µW","x":100,"y":1.09},
{"P":"0.06 µW","x":0,"y":1.38},{"P":"0.06 µW","x":0.8,"y":1.36},{"P":"0.06 µW","x":1.6,"y":1.39},{"P":"0.06 µW","x":2.4,"y":1.37},{"P":"0.06 µW","x":3.2,"y":1.35},{"P":"0.06 µW","x":4,"y":1.38},{"P":"0.06 µW","x":4.8,"y":1.36},{"P":"0.06 µW","x":5.6,"y":1.39},{"P":"0.06 µW","x":6.4,"y":1.37},{"P":"0.06 µW","x":7.2,"y":1.35},
{"P":"0.06 µW","x":8,"y":1.38},{"P":"0.06 µW","x":8.8,"y":1.36},{"P":"0.06 µW","x":9.6,"y":1.34},{"P":"0.06 µW","x":10.4,"y":1.37},{"P":"0.06 µW","x":11.2,"y":1.35},{"P":"0.06 µW","x":12,"y":1.38},{"P":"0.06 µW","x":12.8,"y":1.36},{"P":"0.06 µW","x":13.6,"y":1.34},{"P":"0.06 µW","x":14.4,"y":1.37},{"P":"0.06 µW","x":15.2,"y":1.35},
{"P":"0.06 µW","x":16,"y":1.33},{"P":"0.06 µW","x":16.8,"y":1.36},{"P":"0.06 µW","x":17.6,"y":1.34},{"P":"0.06 µW","x":18.4,"y":1.37},{"P":"0.06 µW","x":19.2,"y":1.35},{"P":"0.06 µW","x":20,"y":1.33},{"P":"0.06 µW","x":20.8,"y":1.36},{"P":"0.06 µW","x":21.6,"y":1.34},{"P":"0.06 µW","x":22.4,"y":1.37},{"P":"0.06 µW","x":23.2,"y":1.35},
{"P":"0.06 µW","x":24,"y":1.38},{"P":"0.06 µW","x":24.8,"y":1.36},{"P":"0.06 µW","x":25.6,"y":1.39},{"P":"0.06 µW","x":26.4,"y":1.37},{"P":"0.06 µW","x":27.2,"y":1.35},{"P":"0.06 µW","x":28,"y":1.38},{"P":"0.06 µW","x":28.8,"y":1.36},{"P":"0.06 µW","x":29.6,"y":1.39},{"P":"0.06 µW","x":30.4,"y":1.37},{"P":"0.06 µW","x":31.2,"y":1.4},
{"P":"0.06 µW","x":32,"y":1.38},{"P":"0.06 µW","x":32.8,"y":1.36},{"P":"0.06 µW","x":33.6,"y":1.39},{"P":"0.06 µW","x":34.4,"y":1.37},{"P":"0.06 µW","x":35.2,"y":1.4},{"P":"0.06 µW","x":36,"y":1.38},{"P":"0.06 µW","x":36.8,"y":1.41},{"P":"0.06 µW","x":37.6,"y":1.39},{"P":"0.06 µW","x":38.4,"y":1.42},{"P":"0.06 µW","x":39.2,"y":1.4},
{"P":"0.06 µW","x":40,"y":1.38},{"P":"0.06 µW","x":40.8,"y":1.41},{"P":"0.06 µW","x":41.6,"y":1.44},{"P":"0.06 µW","x":42.4,"y":1.41},{"P":"0.06 µW","x":43.2,"y":1.43},{"P":"0.06 µW","x":44,"y":1.4},{"P":"0.06 µW","x":44.8,"y":1.42},{"P":"0.06 µW","x":45.6,"y":1.45},{"P":"0.06 µW","x":46.4,"y":1.42},{"P":"0.06 µW","x":47.2,"y":1.44},
{"P":"0.06 µW","x":48,"y":1.41},{"P":"0.06 µW","x":48.8,"y":1.43},{"P":"0.06 µW","x":49.6,"y":1.45},{"P":"0.06 µW","x":50.4,"y":1.44},{"P":"0.06 µW","x":51.2,"y":1.46},{"P":"0.06 µW","x":52,"y":1.48},{"P":"0.06 µW","x":52.8,"y":1.47},{"P":"0.06 µW","x":53.6,"y":1.5},{"P":"0.06 µW","x":54.4,"y":1.52},{"P":"0.06 µW","x":55.2,"y":1.54},
{"P":"0.06 µW","x":56,"y":1.57},{"P":"0.06 µW","x":56.8,"y":1.6},{"P":"0.06 µW","x":57.6,"y":1.64},{"P":"0.06 µW","x":58.4,"y":1.69},{"P":"0.06 µW","x":59.2,"y":1.76},{"P":"0.06 µW","x":60,"y":1.87},{"P":"0.06 µW","x":60.8,"y":2.0},{"P":"0.06 µW","x":61.6,"y":1.8},{"P":"0.06 µW","x":62.4,"y":1.76},{"P":"0.06 µW","x":63.2,"y":1.73},
{"P":"0.06 µW","x":64,"y":1.7},{"P":"0.06 µW","x":64.8,"y":1.68},{"P":"0.06 µW","x":65.6,"y":1.66},{"P":"0.06 µW","x":66.4,"y":1.64},{"P":"0.06 µW","x":67.2,"y":1.63},{"P":"0.06 µW","x":68,"y":1.62},{"P":"0.06 µW","x":68.8,"y":1.61},{"P":"0.06 µW","x":69.6,"y":1.6},{"P":"0.06 µW","x":70.4,"y":1.61},{"P":"0.06 µW","x":71.2,"y":1.59},
{"P":"0.06 µW","x":72,"y":1.6},{"P":"0.06 µW","x":72.8,"y":1.58},{"P":"0.06 µW","x":73.6,"y":1.59},{"P":"0.06 µW","x":74.4,"y":1.57},{"P":"0.06 µW","x":75.2,"y":1.58},{"P":"0.06 µW","x":76,"y":1.56},{"P":"0.06 µW","x":76.8,"y":1.57},{"P":"0.06 µW","x":77.6,"y":1.55},{"P":"0.06 µW","x":78.4,"y":1.57},{"P":"0.06 µW","x":79.2,"y":1.55},
{"P":"0.06 µW","x":80,"y":1.54},{"P":"0.06 µW","x":80.8,"y":1.52},{"P":"0.06 µW","x":81.6,"y":1.5},{"P":"0.06 µW","x":82.4,"y":1.51},{"P":"0.06 µW","x":83.2,"y":1.49},{"P":"0.06 µW","x":84,"y":1.48},{"P":"0.06 µW","x":84.8,"y":1.47},{"P":"0.06 µW","x":85.6,"y":1.46},{"P":"0.06 µW","x":86.4,"y":1.45},{"P":"0.06 µW","x":87.2,"y":1.44},
{"P":"0.06 µW","x":88,"y":1.45},{"P":"0.06 µW","x":88.8,"y":1.43},{"P":"0.06 µW","x":89.6,"y":1.44},{"P":"0.06 µW","x":90.4,"y":1.42},{"P":"0.06 µW","x":91.2,"y":1.43},{"P":"0.06 µW","x":92,"y":1.41},{"P":"0.06 µW","x":92.8,"y":1.42},{"P":"0.06 µW","x":93.6,"y":1.4},{"P":"0.06 µW","x":94.4,"y":1.41},{"P":"0.06 µW","x":95.2,"y":1.39},
{"P":"0.06 µW","x":96,"y":1.4},{"P":"0.06 µW","x":96.8,"y":1.38},{"P":"0.06 µW","x":97.6,"y":1.39},{"P":"0.06 µW","x":98.4,"y":1.38},{"P":"0.06 µW","x":99.2,"y":1.4},{"P":"0.06 µW","x":100,"y":1.39},
{"P":"0.19 µW","x":0,"y":1.7},{"P":"0.19 µW","x":0.8,"y":1.68},{"P":"0.19 µW","x":1.6,"y":1.69},{"P":"0.19 µW","x":2.4,"y":1.67},{"P":"0.19 µW","x":3.2,"y":1.68},{"P":"0.19 µW","x":4,"y":1.66},{"P":"0.19 µW","x":4.8,"y":1.67},{"P":"0.19 µW","x":5.6,"y":1.65},{"P":"0.19 µW","x":6.4,"y":1.66},{"P":"0.19 µW","x":7.2,"y":1.64},
{"P":"0.19 µW","x":8,"y":1.66},{"P":"0.19 µW","x":8.8,"y":1.63},{"P":"0.19 µW","x":9.6,"y":1.65},{"P":"0.19 µW","x":10.4,"y":1.62},{"P":"0.19 µW","x":11.2,"y":1.64},{"P":"0.19 µW","x":12,"y":1.63},{"P":"0.19 µW","x":12.8,"y":1.65},{"P":"0.19 µW","x":13.6,"y":1.62},{"P":"0.19 µW","x":14.4,"y":1.64},{"P":"0.19 µW","x":15.2,"y":1.63},
{"P":"0.19 µW","x":16,"y":1.61},{"P":"0.19 µW","x":16.8,"y":1.63},{"P":"0.19 µW","x":17.6,"y":1.6},{"P":"0.19 µW","x":18.4,"y":1.62},{"P":"0.19 µW","x":19.2,"y":1.59},{"P":"0.19 µW","x":20,"y":1.61},{"P":"0.19 µW","x":20.8,"y":1.6},{"P":"0.19 µW","x":21.6,"y":1.62},{"P":"0.19 µW","x":22.4,"y":1.59},{"P":"0.19 µW","x":23.2,"y":1.61},
{"P":"0.19 µW","x":24,"y":1.63},{"P":"0.19 µW","x":24.8,"y":1.6},{"P":"0.19 µW","x":25.6,"y":1.62},{"P":"0.19 µW","x":26.4,"y":1.64},{"P":"0.19 µW","x":27.2,"y":1.62},{"P":"0.19 µW","x":28,"y":1.65},{"P":"0.19 µW","x":28.8,"y":1.63},{"P":"0.19 µW","x":29.6,"y":1.66},{"P":"0.19 µW","x":30.4,"y":1.64},{"P":"0.19 µW","x":31.2,"y":1.67},
{"P":"0.19 µW","x":32,"y":1.65},{"P":"0.19 µW","x":32.8,"y":1.68},{"P":"0.19 µW","x":33.6,"y":1.66},{"P":"0.19 µW","x":34.4,"y":1.69},{"P":"0.19 µW","x":35.2,"y":1.67},{"P":"0.19 µW","x":36,"y":1.7},{"P":"0.19 µW","x":36.8,"y":1.68},{"P":"0.19 µW","x":37.6,"y":1.71},{"P":"0.19 µW","x":38.4,"y":1.7},{"P":"0.19 µW","x":39.2,"y":1.73},
{"P":"0.19 µW","x":40,"y":1.72},{"P":"0.19 µW","x":40.8,"y":1.75},{"P":"0.19 µW","x":41.6,"y":1.74},{"P":"0.19 µW","x":42.4,"y":1.76},{"P":"0.19 µW","x":43.2,"y":1.75},{"P":"0.19 µW","x":44,"y":1.77},{"P":"0.19 µW","x":44.8,"y":1.76},{"P":"0.19 µW","x":45.6,"y":1.78},{"P":"0.19 µW","x":46.4,"y":1.77},{"P":"0.19 µW","x":47.2,"y":1.79},
{"P":"0.19 µW","x":48,"y":1.78},{"P":"0.19 µW","x":48.8,"y":1.8},{"P":"0.19 µW","x":49.6,"y":1.82},{"P":"0.19 µW","x":50.4,"y":1.83},{"P":"0.19 µW","x":51.2,"y":1.85},{"P":"0.19 µW","x":52,"y":1.87},{"P":"0.19 µW","x":52.8,"y":1.9},{"P":"0.19 µW","x":53.6,"y":1.92},{"P":"0.19 µW","x":54.4,"y":1.95},{"P":"0.19 µW","x":55.2,"y":1.98},
{"P":"0.19 µW","x":56,"y":2.02},{"P":"0.19 µW","x":56.8,"y":2.07},{"P":"0.19 µW","x":57.6,"y":2.13},{"P":"0.19 µW","x":58.4,"y":2.2},{"P":"0.19 µW","x":59.2,"y":2.32},{"P":"0.19 µW","x":60,"y":2.58},{"P":"0.19 µW","x":60.8,"y":2.74},{"P":"0.19 µW","x":61.6,"y":2.54},{"P":"0.19 µW","x":62.4,"y":2.4},{"P":"0.19 µW","x":63.2,"y":2.33},
{"P":"0.19 µW","x":64,"y":2.27},{"P":"0.19 µW","x":64.8,"y":2.24},{"P":"0.19 µW","x":65.6,"y":2.21},{"P":"0.19 µW","x":66.4,"y":2.19},{"P":"0.19 µW","x":67.2,"y":2.17},{"P":"0.19 µW","x":68,"y":2.15},{"P":"0.19 µW","x":68.8,"y":2.13},{"P":"0.19 µW","x":69.6,"y":2.11},{"P":"0.19 µW","x":70.4,"y":2.08},{"P":"0.19 µW","x":71.2,"y":2.05},
{"P":"0.19 µW","x":72,"y":2.03},{"P":"0.19 µW","x":72.8,"y":2.04},{"P":"0.19 µW","x":73.6,"y":2.02},{"P":"0.19 µW","x":74.4,"y":2.0},{"P":"0.19 µW","x":75.2,"y":1.99},{"P":"0.19 µW","x":76,"y":1.98},{"P":"0.19 µW","x":76.8,"y":1.96},{"P":"0.19 µW","x":77.6,"y":1.95},{"P":"0.19 µW","x":78.4,"y":1.93},{"P":"0.19 µW","x":79.2,"y":1.92},
{"P":"0.19 µW","x":80,"y":1.9},{"P":"0.19 µW","x":80.8,"y":1.89},{"P":"0.19 µW","x":81.6,"y":1.87},{"P":"0.19 µW","x":82.4,"y":1.88},{"P":"0.19 µW","x":83.2,"y":1.86},{"P":"0.19 µW","x":84,"y":1.84},{"P":"0.19 µW","x":84.8,"y":1.85},{"P":"0.19 µW","x":85.6,"y":1.83},{"P":"0.19 µW","x":86.4,"y":1.82},{"P":"0.19 µW","x":87.2,"y":1.81},
{"P":"0.19 µW","x":88,"y":1.8},{"P":"0.19 µW","x":88.8,"y":1.79},{"P":"0.19 µW","x":89.6,"y":1.8},{"P":"0.19 µW","x":90.4,"y":1.78},{"P":"0.19 µW","x":91.2,"y":1.79},{"P":"0.19 µW","x":92,"y":1.77},{"P":"0.19 µW","x":92.8,"y":1.78},{"P":"0.19 µW","x":93.6,"y":1.76},{"P":"0.19 µW","x":94.4,"y":1.77},{"P":"0.19 µW","x":95.2,"y":1.75},
{"P":"0.19 µW","x":96,"y":1.76},{"P":"0.19 µW","x":96.8,"y":1.74},{"P":"0.19 µW","x":97.6,"y":1.75},{"P":"0.19 µW","x":98.4,"y":1.74},{"P":"0.19 µW","x":99.2,"y":1.73},{"P":"0.19 µW","x":100,"y":1.74},
{"P":"0.60 µW","x":0,"y":3.92},{"P":"0.60 µW","x":0.8,"y":3.86},{"P":"0.60 µW","x":1.6,"y":3.82},{"P":"0.60 µW","x":2.4,"y":3.78},{"P":"0.60 µW","x":3.2,"y":3.76},{"P":"0.60 µW","x":4,"y":3.72},{"P":"0.60 µW","x":4.8,"y":3.68},{"P":"0.60 µW","x":5.6,"y":3.66},{"P":"0.60 µW","x":6.4,"y":3.64},{"P":"0.60 µW","x":7.2,"y":3.62},
{"P":"0.60 µW","x":8,"y":3.6},{"P":"0.60 µW","x":8.8,"y":3.59},{"P":"0.60 µW","x":9.6,"y":3.57},{"P":"0.60 µW","x":10.4,"y":3.58},{"P":"0.60 µW","x":11.2,"y":3.55},{"P":"0.60 µW","x":12,"y":3.56},{"P":"0.60 µW","x":12.8,"y":3.54},{"P":"0.60 µW","x":13.6,"y":3.53},{"P":"0.60 µW","x":14.4,"y":3.48},{"P":"0.60 µW","x":15.2,"y":3.45},
{"P":"0.60 µW","x":16,"y":3.52},{"P":"0.60 µW","x":16.8,"y":3.5},{"P":"0.60 µW","x":17.6,"y":3.53},{"P":"0.60 µW","x":18.4,"y":3.51},{"P":"0.60 µW","x":19.2,"y":3.54},{"P":"0.60 µW","x":20,"y":3.52},{"P":"0.60 µW","x":20.8,"y":3.5},{"P":"0.60 µW","x":21.6,"y":3.53},{"P":"0.60 µW","x":22.4,"y":3.51},{"P":"0.60 µW","x":23.2,"y":3.55},
{"P":"0.60 µW","x":24,"y":3.52},{"P":"0.60 µW","x":24.8,"y":3.5},{"P":"0.60 µW","x":25.6,"y":3.54},{"P":"0.60 µW","x":26.4,"y":3.52},{"P":"0.60 µW","x":27.2,"y":3.49},{"P":"0.60 µW","x":28,"y":3.53},{"P":"0.60 µW","x":28.8,"y":3.55},{"P":"0.60 µW","x":29.6,"y":3.52},{"P":"0.60 µW","x":30.4,"y":3.56},{"P":"0.60 µW","x":31.2,"y":3.54},
{"P":"0.60 µW","x":32,"y":3.57},{"P":"0.60 µW","x":32.8,"y":3.6},{"P":"0.60 µW","x":33.6,"y":3.62},{"P":"0.60 µW","x":34.4,"y":3.64},{"P":"0.60 µW","x":35.2,"y":3.63},{"P":"0.60 µW","x":36,"y":3.66},{"P":"0.60 µW","x":36.8,"y":3.68},{"P":"0.60 µW","x":37.6,"y":3.7},{"P":"0.60 µW","x":38.4,"y":3.74},{"P":"0.60 µW","x":39.2,"y":3.82},
{"P":"0.60 µW","x":40,"y":3.84},{"P":"0.60 µW","x":40.8,"y":3.87},{"P":"0.60 µW","x":41.6,"y":3.9},{"P":"0.60 µW","x":42.4,"y":3.89},{"P":"0.60 µW","x":43.2,"y":3.93},{"P":"0.60 µW","x":44,"y":3.95},{"P":"0.60 µW","x":44.8,"y":3.98},{"P":"0.60 µW","x":45.6,"y":4.02},{"P":"0.60 µW","x":46.4,"y":4.04},{"P":"0.60 µW","x":47.2,"y":4.08},
{"P":"0.60 µW","x":48,"y":4.1},{"P":"0.60 µW","x":48.8,"y":4.13},{"P":"0.60 µW","x":49.6,"y":4.16},{"P":"0.60 µW","x":50.4,"y":4.19},{"P":"0.60 µW","x":51.2,"y":4.22},{"P":"0.60 µW","x":52,"y":4.26},{"P":"0.60 µW","x":52.8,"y":4.31},{"P":"0.60 µW","x":53.6,"y":4.36},{"P":"0.60 µW","x":54.4,"y":4.5},{"P":"0.60 µW","x":55.2,"y":4.56},
{"P":"0.60 µW","x":56,"y":4.62},{"P":"0.60 µW","x":56.8,"y":4.72},{"P":"0.60 µW","x":57.6,"y":4.9},{"P":"0.60 µW","x":58.4,"y":5.03},{"P":"0.60 µW","x":59.2,"y":5.36},{"P":"0.60 µW","x":60,"y":5.8},{"P":"0.60 µW","x":60.8,"y":6.36},{"P":"0.60 µW","x":61.6,"y":6.0},{"P":"0.60 µW","x":62.4,"y":5.86},{"P":"0.60 µW","x":63.2,"y":5.72},
{"P":"0.60 µW","x":64,"y":5.65},{"P":"0.60 µW","x":64.8,"y":5.59},{"P":"0.60 µW","x":65.6,"y":5.55},{"P":"0.60 µW","x":66.4,"y":5.5},{"P":"0.60 µW","x":67.2,"y":5.45},{"P":"0.60 µW","x":68,"y":5.38},{"P":"0.60 µW","x":68.8,"y":5.33},{"P":"0.60 µW","x":69.6,"y":5.28},{"P":"0.60 µW","x":70.4,"y":5.24},{"P":"0.60 µW","x":71.2,"y":5.18},
{"P":"0.60 µW","x":72,"y":5.12},{"P":"0.60 µW","x":72.8,"y":5.07},{"P":"0.60 µW","x":73.6,"y":5.03},{"P":"0.60 µW","x":74.4,"y":4.99},{"P":"0.60 µW","x":75.2,"y":4.94},{"P":"0.60 µW","x":76,"y":4.9},{"P":"0.60 µW","x":76.8,"y":4.86},{"P":"0.60 µW","x":77.6,"y":4.82},{"P":"0.60 µW","x":78.4,"y":4.77},{"P":"0.60 µW","x":79.2,"y":4.73},
{"P":"0.60 µW","x":80,"y":4.69},{"P":"0.60 µW","x":80.8,"y":4.65},{"P":"0.60 µW","x":81.6,"y":4.6},{"P":"0.60 µW","x":82.4,"y":4.56},{"P":"0.60 µW","x":83.2,"y":4.51},{"P":"0.60 µW","x":84,"y":4.47},{"P":"0.60 µW","x":84.8,"y":4.43},{"P":"0.60 µW","x":85.6,"y":4.38},{"P":"0.60 µW","x":86.4,"y":4.33},{"P":"0.60 µW","x":87.2,"y":4.28},
{"P":"0.60 µW","x":88,"y":4.26},{"P":"0.60 µW","x":88.8,"y":4.23},{"P":"0.60 µW","x":89.6,"y":4.2},{"P":"0.60 µW","x":90.4,"y":4.17},{"P":"0.60 µW","x":91.2,"y":4.14},{"P":"0.60 µW","x":92,"y":4.11},{"P":"0.60 µW","x":92.8,"y":4.08},{"P":"0.60 µW","x":93.6,"y":4.05},{"P":"0.60 µW","x":94.4,"y":4.02},{"P":"0.60 µW","x":95.2,"y":4.0},
{"P":"0.60 µW","x":96,"y":3.97},{"P":"0.60 µW","x":96.8,"y":3.95},{"P":"0.60 µW","x":97.6,"y":3.93},{"P":"0.60 µW","x":98.4,"y":3.91},{"P":"0.60 µW","x":99.2,"y":3.89},{"P":"0.60 µW","x":100,"y":3.9},
{"P":"1.91 µW","x":0,"y":4.88},{"P":"1.91 µW","x":0.8,"y":4.84},{"P":"1.91 µW","x":1.6,"y":4.8},{"P":"1.91 µW","x":2.4,"y":4.75},{"P":"1.91 µW","x":3.2,"y":4.71},{"P":"1.91 µW","x":4,"y":4.66},{"P":"1.91 µW","x":4.8,"y":4.62},{"P":"1.91 µW","x":5.6,"y":4.58},{"P":"1.91 µW","x":6.4,"y":4.52},{"P":"1.91 µW","x":7.2,"y":4.5},
{"P":"1.91 µW","x":8,"y":4.47},{"P":"1.91 µW","x":8.8,"y":4.44},{"P":"1.91 µW","x":9.6,"y":4.43},{"P":"1.91 µW","x":10.4,"y":4.4},{"P":"1.91 µW","x":11.2,"y":4.37},{"P":"1.91 µW","x":12,"y":4.36},{"P":"1.91 µW","x":12.8,"y":4.33},{"P":"1.91 µW","x":13.6,"y":4.35},{"P":"1.91 µW","x":14.4,"y":4.3},{"P":"1.91 µW","x":15.2,"y":4.28},
{"P":"1.91 µW","x":16,"y":4.33},{"P":"1.91 µW","x":16.8,"y":4.31},{"P":"1.91 µW","x":17.6,"y":4.36},{"P":"1.91 µW","x":18.4,"y":4.33},{"P":"1.91 µW","x":19.2,"y":4.35},{"P":"1.91 µW","x":20,"y":4.32},{"P":"1.91 µW","x":20.8,"y":4.34},{"P":"1.91 µW","x":21.6,"y":4.37},{"P":"1.91 µW","x":22.4,"y":4.35},{"P":"1.91 µW","x":23.2,"y":4.39},
{"P":"1.91 µW","x":24,"y":4.42},{"P":"1.91 µW","x":24.8,"y":4.4},{"P":"1.91 µW","x":25.6,"y":4.44},{"P":"1.91 µW","x":26.4,"y":4.46},{"P":"1.91 µW","x":27.2,"y":4.48},{"P":"1.91 µW","x":28,"y":4.51},{"P":"1.91 µW","x":28.8,"y":4.54},{"P":"1.91 µW","x":29.6,"y":4.57},{"P":"1.91 µW","x":30.4,"y":4.61},{"P":"1.91 µW","x":31.2,"y":4.64},
{"P":"1.91 µW","x":32,"y":4.67},{"P":"1.91 µW","x":32.8,"y":4.7},{"P":"1.91 µW","x":33.6,"y":4.73},{"P":"1.91 µW","x":34.4,"y":4.76},{"P":"1.91 µW","x":35.2,"y":4.79},{"P":"1.91 µW","x":36,"y":4.82},{"P":"1.91 µW","x":36.8,"y":4.85},{"P":"1.91 µW","x":37.6,"y":4.88},{"P":"1.91 µW","x":38.4,"y":4.92},{"P":"1.91 µW","x":39.2,"y":4.98},
{"P":"1.91 µW","x":40,"y":5.02},{"P":"1.91 µW","x":40.8,"y":5.06},{"P":"1.91 µW","x":41.6,"y":5.1},{"P":"1.91 µW","x":42.4,"y":5.15},{"P":"1.91 µW","x":43.2,"y":5.2},{"P":"1.91 µW","x":44,"y":5.26},{"P":"1.91 µW","x":44.8,"y":5.31},{"P":"1.91 µW","x":45.6,"y":5.37},{"P":"1.91 µW","x":46.4,"y":5.43},{"P":"1.91 µW","x":47.2,"y":5.5},
{"P":"1.91 µW","x":48,"y":5.56},{"P":"1.91 µW","x":48.8,"y":5.64},{"P":"1.91 µW","x":49.6,"y":5.72},{"P":"1.91 µW","x":50.4,"y":5.82},{"P":"1.91 µW","x":51.2,"y":5.93},{"P":"1.91 µW","x":52,"y":6.03},{"P":"1.91 µW","x":52.8,"y":6.13},{"P":"1.91 µW","x":53.6,"y":6.25},{"P":"1.91 µW","x":54.4,"y":6.37},{"P":"1.91 µW","x":55.2,"y":6.5},
{"P":"1.91 µW","x":56,"y":6.62},{"P":"1.91 µW","x":56.8,"y":6.78},{"P":"1.91 µW","x":57.6,"y":6.98},{"P":"1.91 µW","x":58.4,"y":7.29},{"P":"1.91 µW","x":59.2,"y":7.7},{"P":"1.91 µW","x":60,"y":8.47},{"P":"1.91 µW","x":60.8,"y":9.59},{"P":"1.91 µW","x":61.6,"y":8.92},{"P":"1.91 µW","x":62.4,"y":8.65},{"P":"1.91 µW","x":63.2,"y":8.47},
{"P":"1.91 µW","x":64,"y":8.31},{"P":"1.91 µW","x":64.8,"y":8.25},{"P":"1.91 µW","x":65.6,"y":8.14},{"P":"1.91 µW","x":66.4,"y":8.07},{"P":"1.91 µW","x":67.2,"y":8.0},{"P":"1.91 µW","x":68,"y":7.93},{"P":"1.91 µW","x":68.8,"y":7.86},{"P":"1.91 µW","x":69.6,"y":7.78},{"P":"1.91 µW","x":70.4,"y":7.7},{"P":"1.91 µW","x":71.2,"y":7.6},
{"P":"1.91 µW","x":72,"y":7.5},{"P":"1.91 µW","x":72.8,"y":7.42},{"P":"1.91 µW","x":73.6,"y":7.34},{"P":"1.91 µW","x":74.4,"y":7.25},{"P":"1.91 µW","x":75.2,"y":7.13},{"P":"1.91 µW","x":76,"y":7.04},{"P":"1.91 µW","x":76.8,"y":6.95},{"P":"1.91 µW","x":77.6,"y":6.86},{"P":"1.91 µW","x":78.4,"y":6.77},{"P":"1.91 µW","x":79.2,"y":6.68},
{"P":"1.91 µW","x":80,"y":6.58},{"P":"1.91 µW","x":80.8,"y":6.5},{"P":"1.91 µW","x":81.6,"y":6.43},{"P":"1.91 µW","x":82.4,"y":6.36},{"P":"1.91 µW","x":83.2,"y":6.28},{"P":"1.91 µW","x":84,"y":6.2},{"P":"1.91 µW","x":84.8,"y":6.12},{"P":"1.91 µW","x":85.6,"y":6.04},{"P":"1.91 µW","x":86.4,"y":5.96},{"P":"1.91 µW","x":87.2,"y":5.88},
{"P":"1.91 µW","x":88,"y":5.8},{"P":"1.91 µW","x":88.8,"y":5.73},{"P":"1.91 µW","x":89.6,"y":5.65},{"P":"1.91 µW","x":90.4,"y":5.58},{"P":"1.91 µW","x":91.2,"y":5.52},{"P":"1.91 µW","x":92,"y":5.46},{"P":"1.91 µW","x":92.8,"y":5.4},{"P":"1.91 µW","x":93.6,"y":5.35},{"P":"1.91 µW","x":94.4,"y":5.29},{"P":"1.91 µW","x":95.2,"y":5.24},
{"P":"1.91 µW","x":96,"y":5.19},{"P":"1.91 µW","x":96.8,"y":5.14},{"P":"1.91 µW","x":97.6,"y":5.08},{"P":"1.91 µW","x":98.4,"y":5.04},{"P":"1.91 µW","x":99.2,"y":5.0},{"P":"1.91 µW","x":100,"y":4.96},
{"P":"5.51 µW","x":0,"y":5.72},{"P":"5.51 µW","x":0.8,"y":5.56},{"P":"5.51 µW","x":1.6,"y":5.44},{"P":"5.51 µW","x":2.4,"y":5.36},{"P":"5.51 µW","x":3.2,"y":5.3},{"P":"5.51 µW","x":4,"y":5.24},{"P":"5.51 µW","x":4.8,"y":5.19},{"P":"5.51 µW","x":5.6,"y":5.14},{"P":"5.51 µW","x":6.4,"y":5.09},{"P":"5.51 µW","x":7.2,"y":5.04},
{"P":"5.51 µW","x":8,"y":4.98},{"P":"5.51 µW","x":8.8,"y":4.96},{"P":"5.51 µW","x":9.6,"y":4.94},{"P":"5.51 µW","x":10.4,"y":4.93},{"P":"5.51 µW","x":11.2,"y":4.92},{"P":"5.51 µW","x":12,"y":4.93},{"P":"5.51 µW","x":12.8,"y":4.91},{"P":"5.51 µW","x":13.6,"y":4.92},{"P":"5.51 µW","x":14.4,"y":4.93},{"P":"5.51 µW","x":15.2,"y":4.92},
{"P":"5.51 µW","x":16,"y":4.95},{"P":"5.51 µW","x":16.8,"y":4.94},{"P":"5.51 µW","x":17.6,"y":4.9},{"P":"5.51 µW","x":18.4,"y":4.96},{"P":"5.51 µW","x":19.2,"y":4.94},{"P":"5.51 µW","x":20,"y":4.99},{"P":"5.51 µW","x":20.8,"y":4.98},{"P":"5.51 µW","x":21.6,"y":5.0},{"P":"5.51 µW","x":22.4,"y":5.02},{"P":"5.51 µW","x":23.2,"y":5.01},
{"P":"5.51 µW","x":24,"y":5.05},{"P":"5.51 µW","x":24.8,"y":5.04},{"P":"5.51 µW","x":25.6,"y":5.08},{"P":"5.51 µW","x":26.4,"y":5.1},{"P":"5.51 µW","x":27.2,"y":5.13},{"P":"5.51 µW","x":28,"y":5.15},{"P":"5.51 µW","x":28.8,"y":5.18},{"P":"5.51 µW","x":29.6,"y":5.22},{"P":"5.51 µW","x":30.4,"y":5.27},{"P":"5.51 µW","x":31.2,"y":5.3},
{"P":"5.51 µW","x":32,"y":5.34},{"P":"5.51 µW","x":32.8,"y":5.38},{"P":"5.51 µW","x":33.6,"y":5.42},{"P":"5.51 µW","x":34.4,"y":5.47},{"P":"5.51 µW","x":35.2,"y":5.51},{"P":"5.51 µW","x":36,"y":5.56},{"P":"5.51 µW","x":36.8,"y":5.61},{"P":"5.51 µW","x":37.6,"y":5.66},{"P":"5.51 µW","x":38.4,"y":5.72},{"P":"5.51 µW","x":39.2,"y":5.9},
{"P":"5.51 µW","x":40,"y":5.95},{"P":"5.51 µW","x":40.8,"y":5.99},{"P":"5.51 µW","x":41.6,"y":6.04},{"P":"5.51 µW","x":42.4,"y":6.08},{"P":"5.51 µW","x":43.2,"y":6.14},{"P":"5.51 µW","x":44,"y":6.2},{"P":"5.51 µW","x":44.8,"y":6.27},{"P":"5.51 µW","x":45.6,"y":6.34},{"P":"5.51 µW","x":46.4,"y":6.42},{"P":"5.51 µW","x":47.2,"y":6.52},
{"P":"5.51 µW","x":48,"y":6.66},{"P":"5.51 µW","x":48.8,"y":6.8},{"P":"5.51 µW","x":49.6,"y":6.94},{"P":"5.51 µW","x":50.4,"y":7.08},{"P":"5.51 µW","x":51.2,"y":7.22},{"P":"5.51 µW","x":52,"y":7.37},{"P":"5.51 µW","x":52.8,"y":7.52},{"P":"5.51 µW","x":53.6,"y":7.68},{"P":"5.51 µW","x":54.4,"y":7.86},{"P":"5.51 µW","x":55.2,"y":8.1},
{"P":"5.51 µW","x":56,"y":8.37},{"P":"5.51 µW","x":56.8,"y":8.78},{"P":"5.51 µW","x":57.6,"y":9.08},{"P":"5.51 µW","x":58.4,"y":9.53},{"P":"5.51 µW","x":59.2,"y":10.34},{"P":"5.51 µW","x":60,"y":11.4},{"P":"5.51 µW","x":60.8,"y":12.79},{"P":"5.51 µW","x":61.6,"y":12.01},{"P":"5.51 µW","x":62.4,"y":11.6},{"P":"5.51 µW","x":63.2,"y":11.3},
{"P":"5.51 µW","x":64,"y":11.16},{"P":"5.51 µW","x":64.8,"y":11.05},{"P":"5.51 µW","x":65.6,"y":10.89},{"P":"5.51 µW","x":66.4,"y":10.75},{"P":"5.51 µW","x":67.2,"y":10.6},{"P":"5.51 µW","x":68,"y":10.48},{"P":"5.51 µW","x":68.8,"y":10.33},{"P":"5.51 µW","x":69.6,"y":10.2},{"P":"5.51 µW","x":70.4,"y":10.05},{"P":"5.51 µW","x":71.2,"y":9.85},
{"P":"5.51 µW","x":72,"y":9.7},{"P":"5.51 µW","x":72.8,"y":9.55},{"P":"5.51 µW","x":73.6,"y":9.4},{"P":"5.51 µW","x":74.4,"y":9.24},{"P":"5.51 µW","x":75.2,"y":9.08},{"P":"5.51 µW","x":76,"y":8.93},{"P":"5.51 µW","x":76.8,"y":8.78},{"P":"5.51 µW","x":77.6,"y":8.6},{"P":"5.51 µW","x":78.4,"y":8.42},{"P":"5.51 µW","x":79.2,"y":8.33},
{"P":"5.51 µW","x":80,"y":8.22},{"P":"5.51 µW","x":80.8,"y":8.1},{"P":"5.51 µW","x":81.6,"y":7.98},{"P":"5.51 µW","x":82.4,"y":7.86},{"P":"5.51 µW","x":83.2,"y":7.74},{"P":"5.51 µW","x":84,"y":7.62},{"P":"5.51 µW","x":84.8,"y":7.5},{"P":"5.51 µW","x":85.6,"y":7.38},{"P":"5.51 µW","x":86.4,"y":7.27},{"P":"5.51 µW","x":87.2,"y":7.15},
{"P":"5.51 µW","x":88,"y":7.05},{"P":"5.51 µW","x":88.8,"y":6.96},{"P":"5.51 µW","x":89.6,"y":6.87},{"P":"5.51 µW","x":90.4,"y":6.77},{"P":"5.51 µW","x":91.2,"y":6.67},{"P":"5.51 µW","x":92,"y":6.57},{"P":"5.51 µW","x":92.8,"y":6.47},{"P":"5.51 µW","x":93.6,"y":6.38},{"P":"5.51 µW","x":94.4,"y":6.3},{"P":"5.51 µW","x":95.2,"y":6.24},
{"P":"5.51 µW","x":96,"y":6.18},{"P":"5.51 µW","x":96.8,"y":6.12},{"P":"5.51 µW","x":97.6,"y":6.05},{"P":"5.51 µW","x":98.4,"y":5.97},{"P":"5.51 µW","x":99.2,"y":5.9},{"P":"5.51 µW","x":100,"y":5.8}
]
},
"hconcat":[
{
"width":1025,"height":666,
"title":{"text":"488 nm Laser","font":"Liberation Sans","fontSize":75,"fontWeight":"bold","color":"#A51E3B","anchor":"middle","frame":"group","baseline":"alphabetic","offset":-42,"dx":-30},
"resolve":{"axis":{"x":"independent","y":"independent"}},
"layer":[
{"data":{"name":"d488"},
"mark":{"type":"point","shape":"circle","filled":false,"strokeWidth":3.6,"size":185,"opacity":1},
"encoding":{
"x":{"field":"x","type":"quantitative","scale":{"domain":[-3,103],"nice":false,"zero":false},"axis":{"orient":"bottom","values":[0,20,40,60,80,100],"tickSize":10,"labelPadding":12,"title":"Distance (μm)","titleFontSize":50,"titleFontWeight":"normal","titlePadding":22}},
"y":{"field":"y","type":"quantitative","scale":{"domain":[0.54,13.03],"nice":false,"zero":false},"axis":{"orient":"left","values":[2,4,6,8,10,12],"tickSize":10,"labelPadding":11,"title":null}},
"color":{"field":"P","type":"nominal","scale":{"domain":["91.80 µW","31.83 µW","10.07 µW","3.18 µW","1.07 µW","0.32 µW"],"range":["#D71A4B","#38A6AE","#FFC000","#6AB063","#9E9E9E","#000000"]},
"legend":{"orient":"none","legendX":31,"legendY":21,"title":null,"padding":0,"labelFont":"Liberation Sans","labelFontSize":41,"labelColor":"black","labelOffset":40,"rowPadding":9,"symbolSize":185,"symbolStrokeWidth":3.6,"symbolType":"circle","labelLimit":400}}
}},
{"data":{"values":[{}]},
"mark":{"type":"text","text":"488 nm Laser","align":"right","baseline":"alphabetic","font":"Liberation Sans","fontSize":41,"color":"black"},
"encoding":{
"x":{"datum":98.1,"type":"quantitative","scale":{"domain":[-3,103],"nice":false,"zero":false},"axis":{"orient":"top","offset":-10,"values":[0,20,40,60,80,100],"tickSize":10,"labels":false,"title":null}},
"y":{"datum":11.95,"type":"quantitative","scale":{"domain":[0.54,13.03],"nice":false,"zero":false},"axis":{"orient":"right","offset":-10,"values":[1,2,3,4,5,6,7,8,9,10,11,12],"tickSize":10,"labels":false,"title":null}}
}},
{"data":{"values":[{}]},
"mark":{"type":"text","text":"U","align":"left","baseline":"alphabetic","font":"Liberation Sans","fontSize":41,"color":"black"},
"encoding":{
"x":{"datum":72.3,"type":"quantitative","scale":{"domain":[-3,103],"nice":false,"zero":false},"axis":{"orient":"bottom","values":[10,30,50,70,90],"tickSize":6,"labels":false,"title":null}},
"y":{"datum":11.03,"type":"quantitative","scale":{"domain":[0.54,13.03],"nice":false,"zero":false},"axis":{"orient":"left","values":[1,3,5,7,9,11],"tickSize":6,"labels":false,"title":null}}
}},
{"data":{"values":[{}]},
"mark":{"type":"text","text":"DS","align":"left","baseline":"alphabetic","font":"Liberation Sans","fontSize":24,"dx":30,"dy":15,"color":"black"},
"encoding":{
"x":{"datum":72.3,"type":"quantitative","scale":{"domain":[-3,103],"nice":false,"zero":false},"axis":{"orient":"top","offset":-6,"values":[10,30,50,70,90],"tickSize":6,"labels":false,"title":null}},
"y":{"datum":11.03,"type":"quantitative","scale":{"domain":[0.54,13.03],"nice":false,"zero":false},"axis":null}
}},
{"data":{"values":[{}]},
"mark":{"type":"text","text":"= 100 mV","align":"left","baseline":"alphabetic","font":"Liberation Sans","fontSize":41,"dx":75,"color":"black"},
"encoding":{
"x":{"datum":72.3,"type":"quantitative","scale":{"domain":[-3,103],"nice":false,"zero":false},"axis":null},
"y":{"datum":11.03,"type":"quantitative","scale":{"domain":[0.54,13.03],"nice":false,"zero":false},"axis":null}
}},
{"data":{"values":[{}]},
"mark":{"type":"text","text":"I","angle":270,"align":"left","baseline":"alphabetic","font":"Liberation Sans","fontSize":50,"color":"black"},
"encoding":{
"x":{"datum":-13.75,"type":"quantitative","scale":{"domain":[-3,103],"nice":false,"zero":false},"axis":null},
"y":{"datum":4.48,"type":"quantitative","scale":{"domain":[0.54,13.03],"nice":false,"zero":false},"axis":null}
}},
{"data":{"values":[{}]},
"mark":{"type":"text","text":"DS","angle":270,"align":"left","baseline":"alphabetic","font":"Liberation Sans","fontSize":32,"dx":14,"dy":12,"color":"black"},
"encoding":{
"x":{"datum":-13.75,"type":"quantitative","scale":{"domain":[-3,103],"nice":false,"zero":false},"axis":null},
"y":{"datum":4.48,"type":"quantitative","scale":{"domain":[0.54,13.03],"nice":false,"zero":false},"axis":null}
}},
{"data":{"values":[{}]},
"mark":{"type":"text","text":"(nA)","angle":270,"align":"left","baseline":"alphabetic","font":"Liberation Sans","fontSize":50,"dx":72,"color":"black"},
"encoding":{
"x":{"datum":-13.75,"type":"quantitative","scale":{"domain":[-3,103],"nice":false,"zero":false},"axis":null},
"y":{"datum":4.48,"type":"quantitative","scale":{"domain":[0.54,13.03],"nice":false,"zero":false},"axis":null}
}}
]
},
{
"width":1025,"height":666,
"title":{"text":"633 nm Laser","font":"Liberation Sans","fontSize":75,"fontWeight":"bold","color":"#A51E3B","anchor":"middle","frame":"group","baseline":"alphabetic","offset":-60,"dx":50},
"resolve":{"axis":{"x":"independent","y":"independent"}},
"layer":[
{"data":{"name":"d633"},
"mark":{"type":"point","shape":"circle","filled":false,"strokeWidth":3.6,"size":185,"opacity":1},
"encoding":{
"x":{"field":"x","type":"quantitative","scale":{"domain":[-3,103],"nice":false,"zero":false},"axis":{"orient":"bottom","values":[0,20,40,60,80,100],"tickSize":10,"labelPadding":12,"title":"Distance (μm)","titleFontSize":50,"titleFontWeight":"normal","titlePadding":22}},
"y":{"field":"y","type":"quantitative","scale":{"domain":[0.45,14],"nice":false,"zero":false},"axis":{"orient":"left","values":[2,4,6,8,10,12,14],"tickSize":10,"labelPadding":11,"title":null}},
"color":{"field":"P","type":"nominal","scale":{"domain":["5.51 µW","1.91 µW","0.60 µW","0.19 µW","0.06 µW","0.02 µW"],"range":["#D71A4B","#38A6AE","#FFC000","#6AB063","#9E9E9E","#000000"]},
"legend":{"orient":"none","legendX":32,"legendY":21,"title":null,"padding":0,"labelFont":"Liberation Sans","labelFontSize":41,"labelColor":"black","labelOffset":40,"rowPadding":9,"symbolSize":185,"symbolStrokeWidth":3.6,"symbolType":"circle","labelLimit":400}}
}},
{"data":{"values":[{}]},
"mark":{"type":"text","text":"633 nm Laser","align":"right","baseline":"alphabetic","font":"Liberation Sans","fontSize":41,"color":"black"},
"encoding":{
"x":{"datum":99.7,"type":"quantitative","scale":{"domain":[-3,103],"nice":false,"zero":false},"axis":{"orient":"top","offset":-10,"values":[0,20,40,60,80,100],"tickSize":10,"labels":false,"title":null}},
"y":{"datum":12.84,"type":"quantitative","scale":{"domain":[0.45,14],"nice":false,"zero":false},"axis":{"orient":"right","offset":-10,"values":[1,2,3,4,5,6,7,8,9,10,11,12,13],"tickSize":10,"labels":false,"title":null}}
}},
{"data":{"values":[{}]},
"mark":{"type":"text","text":"U","align":"left","baseline":"alphabetic","font":"Liberation Sans","fontSize":41,"color":"black"},
"encoding":{
"x":{"datum":73.4,"type":"quantitative","scale":{"domain":[-3,103],"nice":false,"zero":false},"axis":{"orient":"bottom","values":[10,30,50,70,90],"tickSize":6,"labels":false,"title":null}},
"y":{"datum":11.84,"type":"quantitative","scale":{"domain":[0.45,14],"nice":false,"zero":false},"axis":{"orient":"left","values":[1,3,5,7,9,11,13],"tickSize":6,"labels":false,"title":null}}
}},
{"data":{"values":[{}]},
"mark":{"type":"text","text":"DS","align":"left","baseline":"alphabetic","font":"Liberation Sans","fontSize":24,"dx":30,"dy":15,"color":"black"},
"encoding":{
"x":{"datum":73.4,"type":"quantitative","scale":{"domain":[-3,103],"nice":false,"zero":false},"axis":{"orient":"top","offset":-6,"values":[10,30,50,70,90],"tickSize":6,"labels":false,"title":null}},
"y":{"datum":11.84,"type":"quantitative","scale":{"domain":[0.45,14],"nice":false,"zero":false},"axis":null}
}},
{"data":{"values":[{}]},
"mark":{"type":"text","text":"= 100 mV","align":"left","baseline":"alphabetic","font":"Liberation Sans","fontSize":41,"dx":77,"color":"black"},
"encoding":{
"x":{"datum":73.4,"type":"quantitative","scale":{"domain":[-3,103],"nice":false,"zero":false},"axis":null},
"y":{"datum":11.84,"type":"quantitative","scale":{"domain":[0.45,14],"nice":false,"zero":false},"axis":null}
}},
{"data":{"values":[{}]},
"mark":{"type":"text","text":"I","angle":270,"align":"left","baseline":"alphabetic","font":"Liberation Sans","fontSize":50,"color":"black"},
"encoding":{
"x":{"datum":-13.75,"type":"quantitative","scale":{"domain":[-3,103],"nice":false,"zero":false},"axis":null},
"y":{"datum":4.73,"type":"quantitative","scale":{"domain":[0.45,14],"nice":false,"zero":false},"axis":null}
}},
{"data":{"values":[{}]},
"mark":{"type":"text","text":"DS","angle":270,"align":"left","baseline":"alphabetic","font":"Liberation Sans","fontSize":32,"dx":14,"dy":12,"color":"black"},
"encoding":{
"x":{"datum":-13.75,"type":"quantitative","scale":{"domain":[-3,103],"nice":false,"zero":false},"axis":null},
"y":{"datum":4.73,"type":"quantitative","scale":{"domain":[0.45,14],"nice":false,"zero":false},"axis":null}
}},
{"data":{"values":[{}]},
"mark":{"type":"text","text":"(nA)","angle":270,"align":"left","baseline":"alphabetic","font":"Liberation Sans","fontSize":50,"dx":72,"color":"black"},
"encoding":{
"x":{"datum":-13.75,"type":"quantitative","scale":{"domain":[-3,103],"nice":false,"zero":false},"axis":null},
"y":{"datum":4.73,"type":"quantitative","scale":{"domain":[0.45,14],"nice":false,"zero":false},"axis":null}
}}
]
}
]
}
